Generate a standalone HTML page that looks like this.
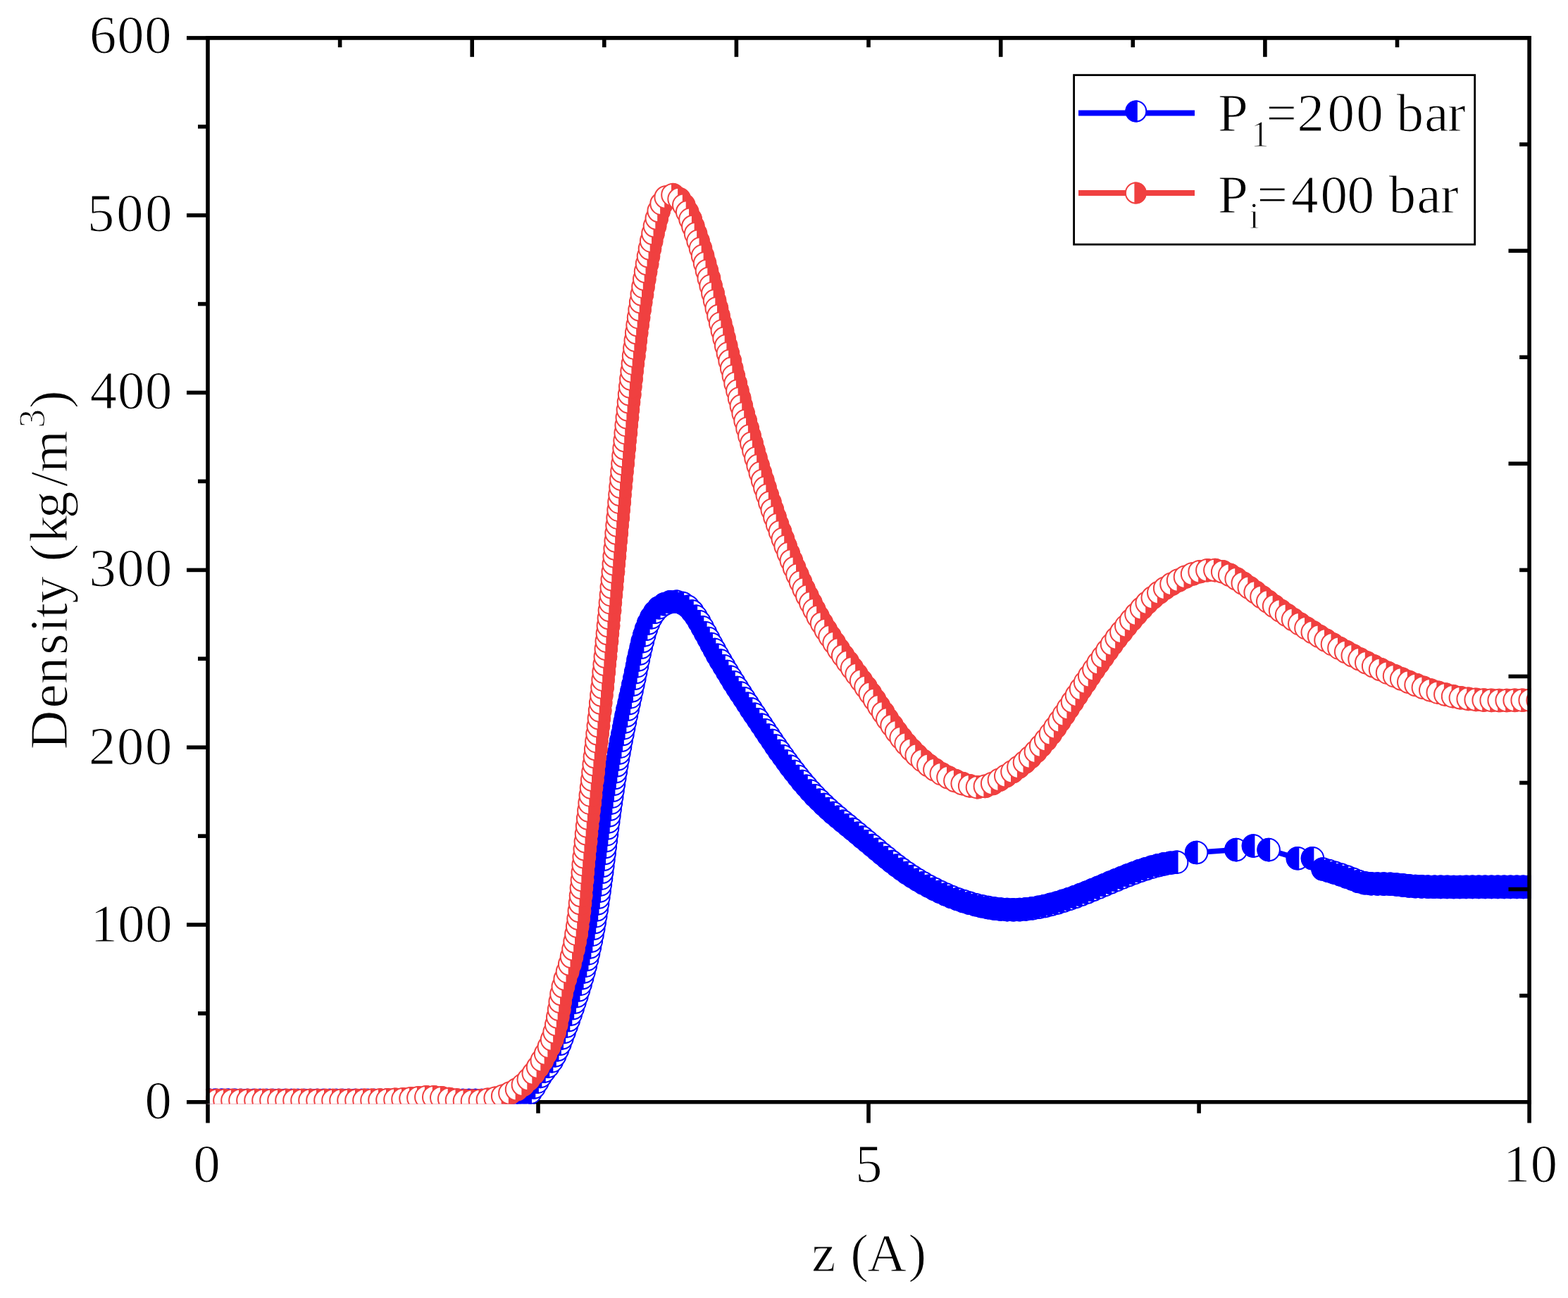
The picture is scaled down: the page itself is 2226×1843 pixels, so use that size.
<!DOCTYPE html><html><head><meta charset="utf-8"><title>Density profile</title><style>
*{margin:0;padding:0}
html,body{width:2226px;height:1843px;background:#fff;overflow:hidden}
svg{display:block}
text{font-family:'Liberation Serif','Times New Roman',serif;fill:#000;stroke:#fff;stroke-width:1.1px;stroke-linejoin:round}
.mr circle{fill:#fff;stroke:#F04040;stroke-width:2.0}
.mr path{fill:#F04040}
.mb circle{fill:#fff;stroke:#0000FF;stroke-width:2.0}
.mb path{fill:#0000FF}
</style></head><body><svg width="2226" height="1843" viewBox="0 0 2226 1843">
<defs><clipPath id="pc"><rect x="292" y="51" width="1882" height="1516.4"/></clipPath></defs>
<line x1="292.2" y1="1564.8" x2="2173.9" y2="1564.8" stroke="#000" stroke-width="5.6" stroke-linecap="butt"/>
<line x1="295" y1="1564.8" x2="295" y2="1594.5" stroke="#000" stroke-width="5.6" stroke-linecap="butt"/>
<line x1="1233" y1="1564.8" x2="1233" y2="1594.5" stroke="#000" stroke-width="5.6" stroke-linecap="butt"/>
<line x1="2171.1" y1="1564.8" x2="2171.1" y2="1594.5" stroke="#000" stroke-width="5.6" stroke-linecap="butt"/>
<line x1="764" y1="1564.8" x2="764" y2="1580.7" stroke="#000" stroke-width="5.6" stroke-linecap="butt"/>
<line x1="1702.1" y1="1564.8" x2="1702.1" y2="1580.7" stroke="#000" stroke-width="5.6" stroke-linecap="butt"/>
<g clip-path="url(#pc)">
<polyline points="296.9,1562.3 305.9,1562.4 314.9,1562.4 323.9,1562.4 332.9,1562.4 341.9,1562.5 350.9,1562.5 359.9,1562.5 368.9,1562.5 377.9,1562.5 386.9,1562.5 395.9,1562.5 404.9,1562.5 413.9,1562.5 422.9,1562.5 431.9,1562.5 440.9,1562.5 449.9,1562.5 458.9,1562.5 467.9,1562.5 476.9,1562.5 485.9,1562.5 494.9,1562.5 503.9,1562.5 512.9,1562.5 521.9,1562.5 530.9,1562.5 539.9,1562.5 548.9,1562.4 557.9,1562.4 566.9,1562.4 575.9,1562.4 584.9,1562.4 593.9,1562.4 602.9,1562.4 611.9,1562.4 620.9,1562.5 629.9,1562.5 638.9,1562.5 647.9,1562.5 656.9,1562.5 665.9,1562.5 674.9,1562.6 683.9,1562.6 692.9,1562.6 701.9,1562.7 710.9,1562.6 719.9,1562.4 728.9,1561.6 737.7,1560.1 746.1,1557 753,1551.2 758.3,1543.9 762.9,1536.2 767.4,1528.4 772.7,1521.1 778.3,1514.1 783.4,1506.7 787.8,1498.8 791.5,1490.6 794.9,1482.3 798,1473.9 801.1,1465.4 804.2,1457 807.3,1448.5 810.3,1440 813.2,1431.5 816,1423 818.8,1414.4 821.5,1405.8 824.1,1397.2 826.6,1388.6 829,1379.9 831.3,1371.2 833.5,1362.4 835.5,1353.7 837.4,1344.9 839.3,1336.1 841,1327.2 842.7,1318.4 844.2,1309.5 845.7,1300.7 847.2,1291.8 848.5,1282.9 849.8,1274 851.1,1265.1 852.3,1256.1 853.5,1247.2 854.7,1238.3 855.8,1229.4 856.9,1220.4 858.1,1211.5 859.2,1202.6 860.3,1193.6 861.4,1184.7 862.5,1175.8 863.7,1166.9 864.9,1157.9 866.1,1149 867.4,1140.1 868.7,1131.2 870,1122.3 871.4,1113.4 872.8,1104.5 874.3,1095.6 875.7,1086.8 877.3,1077.9 878.9,1069 880.5,1060.2 882.1,1051.3 883.9,1042.5 885.6,1033.7 887.4,1024.9 889.3,1016.1 891.2,1007.3 893.1,998.5 895,989.7 897,980.9 898.9,972.1 900.8,963.3 902.6,954.5 904.5,945.7 906.3,936.9 908.2,928.1 910.2,919.3 912.4,910.6 914.7,901.9 917.4,893.3 920.6,884.9 924.6,876.8 929.5,869.3 935.7,862.8 943.2,857.8 951.6,854.8 960.6,854.2 969.2,856.5 976.7,861.4 982.8,868 988.1,875.3 992.9,882.9 997.3,890.8 1001.6,898.7 1005.8,906.6 1010,914.6 1014.3,922.5 1018.7,930.3 1023.2,938.1 1027.8,945.9 1032.4,953.6 1037.1,961.3 1041.8,968.9 1046.7,976.6 1051.5,984.1 1056.4,991.7 1061.3,999.2 1066.3,1006.7 1071.3,1014.2 1076.2,1021.7 1081.2,1029.2 1086.2,1036.7 1091.3,1044.2 1096.3,1051.6 1101.4,1059.1 1106.5,1066.5 1111.7,1073.8 1116.9,1081.1 1122.3,1088.3 1127.7,1095.5 1133.3,1102.6 1139,1109.6 1144.8,1116.4 1150.8,1123.2 1156.9,1129.8 1163.2,1136.2 1169.6,1142.5 1176.2,1148.6 1183,1154.6 1189.8,1160.4 1196.7,1166.2 1203.7,1171.9 1210.6,1177.6 1217.6,1183.3 1224.5,1189 1231.4,1194.8 1238.3,1200.6 1245.2,1206.4 1252.1,1212.2 1259.1,1217.9 1266.1,1223.5 1273.2,1229 1280.4,1234.4 1287.8,1239.5 1295.3,1244.5 1302.9,1249.3 1310.7,1253.9 1318.6,1258.2 1326.6,1262.4 1334.7,1266.3 1342.9,1270 1351.2,1273.5 1359.6,1276.7 1368.1,1279.6 1376.7,1282.3 1385.3,1284.7 1394.1,1286.8 1402.9,1288.6 1411.8,1290 1420.7,1291 1429.7,1291.6 1438.7,1291.8 1447.7,1291.6 1456.7,1290.9 1465.6,1289.8 1474.5,1288.3 1483.3,1286.5 1492.1,1284.4 1500.7,1282 1509.3,1279.3 1517.9,1276.5 1526.4,1273.5 1534.8,1270.3 1543.2,1267 1551.5,1263.6 1559.8,1260.2 1568.1,1256.7 1576.4,1253.1 1584.7,1249.7 1593,1246.2 1601.4,1242.9 1609.8,1239.7 1618.2,1236.6 1626.8,1233.8 1635.4,1231.2 1644.1,1228.8 1652.8,1226.8 1661.7,1225.3 1670.6,1224.2 1698.6,1210.5 1754.9,1206.6 1779.4,1201.1 1801.1,1206.6 1842.3,1218.8 1863.4,1218.8 1878,1234 1886.6,1236.6 1895.2,1239.2 1903.8,1242.1 1912.3,1245 1920.7,1248.2 1929,1251.5 1937.7,1253.8 1946.7,1254.7 1955.7,1255 1964.7,1255.1 1973.7,1255.3 1982.7,1256 1991.6,1256.9 2000.6,1257.9 2009.5,1258.6 2018.5,1258.9 2027.5,1259.2 2036.5,1259.3 2045.5,1259.4 2054.5,1259.4 2063.5,1259.5 2072.5,1259.5 2081.5,1259.4 2090.5,1259.4 2099.5,1259.4 2108.5,1259.4 2117.5,1259.4 2126.5,1259.4 2135.5,1259.4 2144.5,1259.4 2153.5,1259.4 2162.5,1259.4 2171.5,1259.4 2180.5,1259.4" fill="none" stroke="#0000FF" stroke-width="7.5" stroke-linejoin="round"/>
<g class="mb">
<circle cx="296.9" cy="1562.3" r="15.8"/><path d="M298.9 1545.6A16.8 16.8 0 1 0 298.9 1579Z"/>
<circle cx="305.9" cy="1562.4" r="15.8"/><path d="M307.9 1545.7A16.8 16.8 0 1 0 307.9 1579Z"/>
<circle cx="314.9" cy="1562.4" r="15.8"/><path d="M316.9 1545.7A16.8 16.8 0 1 0 316.9 1579.1Z"/>
<circle cx="323.9" cy="1562.4" r="15.8"/><path d="M325.9 1545.7A16.8 16.8 0 1 0 325.9 1579.1Z"/>
<circle cx="332.9" cy="1562.4" r="15.8"/><path d="M334.9 1545.8A16.8 16.8 0 1 0 334.9 1579.1Z"/>
<circle cx="341.9" cy="1562.5" r="15.8"/><path d="M343.9 1545.8A16.8 16.8 0 1 0 343.9 1579.1Z"/>
<circle cx="350.9" cy="1562.5" r="15.8"/><path d="M352.9 1545.8A16.8 16.8 0 1 0 352.9 1579.2Z"/>
<circle cx="359.9" cy="1562.5" r="15.8"/><path d="M361.9 1545.8A16.8 16.8 0 1 0 361.9 1579.2Z"/>
<circle cx="368.9" cy="1562.5" r="15.8"/><path d="M370.9 1545.8A16.8 16.8 0 1 0 370.9 1579.2Z"/>
<circle cx="377.9" cy="1562.5" r="15.8"/><path d="M379.9 1545.8A16.8 16.8 0 1 0 379.9 1579.2Z"/>
<circle cx="386.9" cy="1562.5" r="15.8"/><path d="M388.9 1545.8A16.8 16.8 0 1 0 388.9 1579.2Z"/>
<circle cx="395.9" cy="1562.5" r="15.8"/><path d="M397.9 1545.9A16.8 16.8 0 1 0 397.9 1579.2Z"/>
<circle cx="404.9" cy="1562.5" r="15.8"/><path d="M406.9 1545.9A16.8 16.8 0 1 0 406.9 1579.2Z"/>
<circle cx="413.9" cy="1562.5" r="15.8"/><path d="M415.9 1545.9A16.8 16.8 0 1 0 415.9 1579.2Z"/>
<circle cx="422.9" cy="1562.5" r="15.8"/><path d="M424.9 1545.9A16.8 16.8 0 1 0 424.9 1579.2Z"/>
<circle cx="431.9" cy="1562.5" r="15.8"/><path d="M433.9 1545.9A16.8 16.8 0 1 0 433.9 1579.2Z"/>
<circle cx="440.9" cy="1562.5" r="15.8"/><path d="M442.9 1545.9A16.8 16.8 0 1 0 442.9 1579.2Z"/>
<circle cx="449.9" cy="1562.5" r="15.8"/><path d="M451.9 1545.8A16.8 16.8 0 1 0 451.9 1579.2Z"/>
<circle cx="458.9" cy="1562.5" r="15.8"/><path d="M460.9 1545.8A16.8 16.8 0 1 0 460.9 1579.2Z"/>
<circle cx="467.9" cy="1562.5" r="15.8"/><path d="M469.9 1545.8A16.8 16.8 0 1 0 469.9 1579.2Z"/>
<circle cx="476.9" cy="1562.5" r="15.8"/><path d="M478.9 1545.8A16.8 16.8 0 1 0 478.9 1579.2Z"/>
<circle cx="485.9" cy="1562.5" r="15.8"/><path d="M487.9 1545.8A16.8 16.8 0 1 0 487.9 1579.2Z"/>
<circle cx="494.9" cy="1562.5" r="15.8"/><path d="M496.9 1545.8A16.8 16.8 0 1 0 496.9 1579.2Z"/>
<circle cx="503.9" cy="1562.5" r="15.8"/><path d="M505.9 1545.8A16.8 16.8 0 1 0 505.9 1579.2Z"/>
<circle cx="512.9" cy="1562.5" r="15.8"/><path d="M514.9 1545.8A16.8 16.8 0 1 0 514.9 1579.2Z"/>
<circle cx="521.9" cy="1562.5" r="15.8"/><path d="M523.9 1545.8A16.8 16.8 0 1 0 523.9 1579.1Z"/>
<circle cx="530.9" cy="1562.5" r="15.8"/><path d="M532.9 1545.8A16.8 16.8 0 1 0 532.9 1579.1Z"/>
<circle cx="539.9" cy="1562.5" r="15.8"/><path d="M541.9 1545.8A16.8 16.8 0 1 0 541.9 1579.1Z"/>
<circle cx="548.9" cy="1562.4" r="15.8"/><path d="M550.9 1545.8A16.8 16.8 0 1 0 550.9 1579.1Z"/>
<circle cx="557.9" cy="1562.4" r="15.8"/><path d="M559.9 1545.8A16.8 16.8 0 1 0 559.9 1579.1Z"/>
<circle cx="566.9" cy="1562.4" r="15.8"/><path d="M568.9 1545.8A16.8 16.8 0 1 0 568.9 1579.1Z"/>
<circle cx="575.9" cy="1562.4" r="15.8"/><path d="M577.9 1545.8A16.8 16.8 0 1 0 577.9 1579.1Z"/>
<circle cx="584.9" cy="1562.4" r="15.8"/><path d="M586.9 1545.8A16.8 16.8 0 1 0 586.9 1579.1Z"/>
<circle cx="593.9" cy="1562.4" r="15.8"/><path d="M595.9 1545.8A16.8 16.8 0 1 0 595.9 1579.1Z"/>
<circle cx="602.9" cy="1562.4" r="15.8"/><path d="M604.9 1545.8A16.8 16.8 0 1 0 604.9 1579.1Z"/>
<circle cx="611.9" cy="1562.4" r="15.8"/><path d="M613.9 1545.8A16.8 16.8 0 1 0 613.9 1579.1Z"/>
<circle cx="620.9" cy="1562.5" r="15.8"/><path d="M622.9 1545.8A16.8 16.8 0 1 0 622.9 1579.1Z"/>
<circle cx="629.9" cy="1562.5" r="15.8"/><path d="M631.9 1545.8A16.8 16.8 0 1 0 631.9 1579.1Z"/>
<circle cx="638.9" cy="1562.5" r="15.8"/><path d="M640.9 1545.8A16.8 16.8 0 1 0 640.9 1579.2Z"/>
<circle cx="647.9" cy="1562.5" r="15.8"/><path d="M649.9 1545.8A16.8 16.8 0 1 0 649.9 1579.2Z"/>
<circle cx="656.9" cy="1562.5" r="15.8"/><path d="M658.9 1545.8A16.8 16.8 0 1 0 658.9 1579.2Z"/>
<circle cx="665.9" cy="1562.5" r="15.8"/><path d="M667.9 1545.9A16.8 16.8 0 1 0 667.9 1579.2Z"/>
<circle cx="674.9" cy="1562.6" r="15.8"/><path d="M676.9 1545.9A16.8 16.8 0 1 0 676.9 1579.2Z"/>
<circle cx="683.9" cy="1562.6" r="15.8"/><path d="M685.9 1545.9A16.8 16.8 0 1 0 685.9 1579.3Z"/>
<circle cx="692.9" cy="1562.6" r="15.8"/><path d="M694.9 1545.9A16.8 16.8 0 1 0 694.9 1579.3Z"/>
<circle cx="701.9" cy="1562.7" r="15.8"/><path d="M703.9 1546A16.8 16.8 0 1 0 703.9 1579.3Z"/>
<circle cx="710.9" cy="1562.6" r="15.8"/><path d="M712.9 1546A16.8 16.8 0 1 0 712.9 1579.3Z"/>
<circle cx="719.9" cy="1562.4" r="15.8"/><path d="M721.9 1545.7A16.8 16.8 0 1 0 721.9 1579Z"/>
<circle cx="728.9" cy="1561.6" r="15.8"/><path d="M730.9 1544.9A16.8 16.8 0 1 0 730.9 1578.3Z"/>
<circle cx="737.7" cy="1560.1" r="15.8"/><path d="M739.7 1543.5A16.8 16.8 0 1 0 739.7 1576.8Z"/>
<circle cx="746.1" cy="1557" r="15.8"/><path d="M748.1 1540.3A16.8 16.8 0 1 0 748.1 1573.7Z"/>
<circle cx="753" cy="1551.2" r="15.8"/><path d="M755 1534.5A16.8 16.8 0 1 0 755 1567.9Z"/>
<circle cx="758.3" cy="1543.9" r="15.8"/><path d="M760.3 1527.3A16.8 16.8 0 1 0 760.3 1560.6Z"/>
<circle cx="762.9" cy="1536.2" r="15.8"/><path d="M764.9 1519.5A16.8 16.8 0 1 0 764.9 1552.9Z"/>
<circle cx="767.4" cy="1528.4" r="15.8"/><path d="M769.4 1511.8A16.8 16.8 0 1 0 769.4 1545.1Z"/>
<circle cx="772.7" cy="1521.1" r="15.8"/><path d="M774.7 1504.5A16.8 16.8 0 1 0 774.7 1537.8Z"/>
<circle cx="778.3" cy="1514.1" r="15.8"/><path d="M780.3 1497.4A16.8 16.8 0 1 0 780.3 1530.8Z"/>
<circle cx="783.4" cy="1506.7" r="15.8"/><path d="M785.4 1490A16.8 16.8 0 1 0 785.4 1523.4Z"/>
<circle cx="787.8" cy="1498.8" r="15.8"/><path d="M789.8 1482.1A16.8 16.8 0 1 0 789.8 1515.5Z"/>
<circle cx="791.5" cy="1490.6" r="15.8"/><path d="M793.5 1474A16.8 16.8 0 1 0 793.5 1507.3Z"/>
<circle cx="794.9" cy="1482.3" r="15.8"/><path d="M796.9 1465.6A16.8 16.8 0 1 0 796.9 1499Z"/>
<circle cx="798" cy="1473.9" r="15.8"/><path d="M800 1457.2A16.8 16.8 0 1 0 800 1490.5Z"/>
<circle cx="801.1" cy="1465.4" r="15.8"/><path d="M803.1 1448.7A16.8 16.8 0 1 0 803.1 1482.1Z"/>
<circle cx="804.2" cy="1457" r="15.8"/><path d="M806.2 1440.3A16.8 16.8 0 1 0 806.2 1473.6Z"/>
<circle cx="807.3" cy="1448.5" r="15.8"/><path d="M809.3 1431.8A16.8 16.8 0 1 0 809.3 1465.2Z"/>
<circle cx="810.3" cy="1440" r="15.8"/><path d="M812.3 1423.3A16.8 16.8 0 1 0 812.3 1456.7Z"/>
<circle cx="813.2" cy="1431.5" r="15.8"/><path d="M815.2 1414.8A16.8 16.8 0 1 0 815.2 1448.2Z"/>
<circle cx="816" cy="1423" r="15.8"/><path d="M818 1406.3A16.8 16.8 0 1 0 818 1439.6Z"/>
<circle cx="818.8" cy="1414.4" r="15.8"/><path d="M820.8 1397.7A16.8 16.8 0 1 0 820.8 1431.1Z"/>
<circle cx="821.5" cy="1405.8" r="15.8"/><path d="M823.5 1389.1A16.8 16.8 0 1 0 823.5 1422.5Z"/>
<circle cx="824.1" cy="1397.2" r="15.8"/><path d="M826.1 1380.5A16.8 16.8 0 1 0 826.1 1413.9Z"/>
<circle cx="826.6" cy="1388.6" r="15.8"/><path d="M828.6 1371.9A16.8 16.8 0 1 0 828.6 1405.2Z"/>
<circle cx="829" cy="1379.9" r="15.8"/><path d="M831 1363.2A16.8 16.8 0 1 0 831 1396.6Z"/>
<circle cx="831.3" cy="1371.2" r="15.8"/><path d="M833.3 1354.5A16.8 16.8 0 1 0 833.3 1387.9Z"/>
<circle cx="833.5" cy="1362.4" r="15.8"/><path d="M835.5 1345.8A16.8 16.8 0 1 0 835.5 1379.1Z"/>
<circle cx="835.5" cy="1353.7" r="15.8"/><path d="M837.5 1337A16.8 16.8 0 1 0 837.5 1370.4Z"/>
<circle cx="837.4" cy="1344.9" r="15.8"/><path d="M839.4 1328.2A16.8 16.8 0 1 0 839.4 1361.6Z"/>
<circle cx="839.3" cy="1336.1" r="15.8"/><path d="M841.3 1319.4A16.8 16.8 0 1 0 841.3 1352.8Z"/>
<circle cx="841" cy="1327.2" r="15.8"/><path d="M843 1310.6A16.8 16.8 0 1 0 843 1343.9Z"/>
<circle cx="842.7" cy="1318.4" r="15.8"/><path d="M844.7 1301.7A16.8 16.8 0 1 0 844.7 1335.1Z"/>
<circle cx="844.2" cy="1309.5" r="15.8"/><path d="M846.2 1292.9A16.8 16.8 0 1 0 846.2 1326.2Z"/>
<circle cx="845.7" cy="1300.7" r="15.8"/><path d="M847.7 1284A16.8 16.8 0 1 0 847.7 1317.3Z"/>
<circle cx="847.2" cy="1291.8" r="15.8"/><path d="M849.2 1275.1A16.8 16.8 0 1 0 849.2 1308.5Z"/>
<circle cx="848.5" cy="1282.9" r="15.8"/><path d="M850.5 1266.2A16.8 16.8 0 1 0 850.5 1299.6Z"/>
<circle cx="849.8" cy="1274" r="15.8"/><path d="M851.8 1257.3A16.8 16.8 0 1 0 851.8 1290.7Z"/>
<circle cx="851.1" cy="1265.1" r="15.8"/><path d="M853.1 1248.4A16.8 16.8 0 1 0 853.1 1281.7Z"/>
<circle cx="852.3" cy="1256.1" r="15.8"/><path d="M854.3 1239.5A16.8 16.8 0 1 0 854.3 1272.8Z"/>
<circle cx="853.5" cy="1247.2" r="15.8"/><path d="M855.5 1230.5A16.8 16.8 0 1 0 855.5 1263.9Z"/>
<circle cx="854.7" cy="1238.3" r="15.8"/><path d="M856.7 1221.6A16.8 16.8 0 1 0 856.7 1255Z"/>
<circle cx="855.8" cy="1229.4" r="15.8"/><path d="M857.8 1212.7A16.8 16.8 0 1 0 857.8 1246.1Z"/>
<circle cx="856.9" cy="1220.4" r="15.8"/><path d="M858.9 1203.8A16.8 16.8 0 1 0 858.9 1237.1Z"/>
<circle cx="858.1" cy="1211.5" r="15.8"/><path d="M860.1 1194.8A16.8 16.8 0 1 0 860.1 1228.2Z"/>
<circle cx="859.2" cy="1202.6" r="15.8"/><path d="M861.2 1185.9A16.8 16.8 0 1 0 861.2 1219.3Z"/>
<circle cx="860.3" cy="1193.6" r="15.8"/><path d="M862.3 1177A16.8 16.8 0 1 0 862.3 1210.3Z"/>
<circle cx="861.4" cy="1184.7" r="15.8"/><path d="M863.4 1168A16.8 16.8 0 1 0 863.4 1201.4Z"/>
<circle cx="862.5" cy="1175.8" r="15.8"/><path d="M864.5 1159.1A16.8 16.8 0 1 0 864.5 1192.5Z"/>
<circle cx="863.7" cy="1166.9" r="15.8"/><path d="M865.7 1150.2A16.8 16.8 0 1 0 865.7 1183.5Z"/>
<circle cx="864.9" cy="1157.9" r="15.8"/><path d="M866.9 1141.3A16.8 16.8 0 1 0 866.9 1174.6Z"/>
<circle cx="866.1" cy="1149" r="15.8"/><path d="M868.1 1132.4A16.8 16.8 0 1 0 868.1 1165.7Z"/>
<circle cx="867.4" cy="1140.1" r="15.8"/><path d="M869.4 1123.4A16.8 16.8 0 1 0 869.4 1156.8Z"/>
<circle cx="868.7" cy="1131.2" r="15.8"/><path d="M870.7 1114.5A16.8 16.8 0 1 0 870.7 1147.9Z"/>
<circle cx="870" cy="1122.3" r="15.8"/><path d="M872 1105.6A16.8 16.8 0 1 0 872 1139Z"/>
<circle cx="871.4" cy="1113.4" r="15.8"/><path d="M873.4 1096.7A16.8 16.8 0 1 0 873.4 1130.1Z"/>
<circle cx="872.8" cy="1104.5" r="15.8"/><path d="M874.8 1087.8A16.8 16.8 0 1 0 874.8 1121.2Z"/>
<circle cx="874.3" cy="1095.6" r="15.8"/><path d="M876.3 1079A16.8 16.8 0 1 0 876.3 1112.3Z"/>
<circle cx="875.7" cy="1086.8" r="15.8"/><path d="M877.7 1070.1A16.8 16.8 0 1 0 877.7 1103.5Z"/>
<circle cx="877.3" cy="1077.9" r="15.8"/><path d="M879.3 1061.2A16.8 16.8 0 1 0 879.3 1094.6Z"/>
<circle cx="878.9" cy="1069" r="15.8"/><path d="M880.9 1052.4A16.8 16.8 0 1 0 880.9 1085.7Z"/>
<circle cx="880.5" cy="1060.2" r="15.8"/><path d="M882.5 1043.5A16.8 16.8 0 1 0 882.5 1076.9Z"/>
<circle cx="882.1" cy="1051.3" r="15.8"/><path d="M884.1 1034.7A16.8 16.8 0 1 0 884.1 1068Z"/>
<circle cx="883.9" cy="1042.5" r="15.8"/><path d="M885.9 1025.8A16.8 16.8 0 1 0 885.9 1059.2Z"/>
<circle cx="885.6" cy="1033.7" r="15.8"/><path d="M887.6 1017A16.8 16.8 0 1 0 887.6 1050.4Z"/>
<circle cx="887.4" cy="1024.9" r="15.8"/><path d="M889.4 1008.2A16.8 16.8 0 1 0 889.4 1041.5Z"/>
<circle cx="889.3" cy="1016.1" r="15.8"/><path d="M891.3 999.4A16.8 16.8 0 1 0 891.3 1032.7Z"/>
<circle cx="891.2" cy="1007.3" r="15.8"/><path d="M893.2 990.6A16.8 16.8 0 1 0 893.2 1023.9Z"/>
<circle cx="893.1" cy="998.5" r="15.8"/><path d="M895.1 981.8A16.8 16.8 0 1 0 895.1 1015.2Z"/>
<circle cx="895" cy="989.7" r="15.8"/><path d="M897 973A16.8 16.8 0 1 0 897 1006.4Z"/>
<circle cx="897" cy="980.9" r="15.8"/><path d="M899 964.2A16.8 16.8 0 1 0 899 997.6Z"/>
<circle cx="898.9" cy="972.1" r="15.8"/><path d="M900.9 955.4A16.8 16.8 0 1 0 900.9 988.8Z"/>
<circle cx="900.8" cy="963.3" r="15.8"/><path d="M902.8 946.6A16.8 16.8 0 1 0 902.8 980Z"/>
<circle cx="902.6" cy="954.5" r="15.8"/><path d="M904.6 937.8A16.8 16.8 0 1 0 904.6 971.2Z"/>
<circle cx="904.5" cy="945.7" r="15.8"/><path d="M906.5 929A16.8 16.8 0 1 0 906.5 962.4Z"/>
<circle cx="906.3" cy="936.9" r="15.8"/><path d="M908.3 920.2A16.8 16.8 0 1 0 908.3 953.5Z"/>
<circle cx="908.2" cy="928.1" r="15.8"/><path d="M910.2 911.4A16.8 16.8 0 1 0 910.2 944.8Z"/>
<circle cx="910.2" cy="919.3" r="15.8"/><path d="M912.2 902.6A16.8 16.8 0 1 0 912.2 936Z"/>
<circle cx="912.4" cy="910.6" r="15.8"/><path d="M914.4 893.9A16.8 16.8 0 1 0 914.4 927.2Z"/>
<circle cx="914.7" cy="901.9" r="15.8"/><path d="M916.7 885.2A16.8 16.8 0 1 0 916.7 918.6Z"/>
<circle cx="917.4" cy="893.3" r="15.8"/><path d="M919.4 876.6A16.8 16.8 0 1 0 919.4 910Z"/>
<circle cx="920.6" cy="884.9" r="15.8"/><path d="M922.6 868.2A16.8 16.8 0 1 0 922.6 901.6Z"/>
<circle cx="924.6" cy="876.8" r="15.8"/><path d="M926.6 860.1A16.8 16.8 0 1 0 926.6 893.5Z"/>
<circle cx="929.5" cy="869.3" r="15.8"/><path d="M931.5 852.6A16.8 16.8 0 1 0 931.5 886Z"/>
<circle cx="935.7" cy="862.8" r="15.8"/><path d="M937.7 846.1A16.8 16.8 0 1 0 937.7 879.4Z"/>
<circle cx="943.2" cy="857.8" r="15.8"/><path d="M945.2 841.1A16.8 16.8 0 1 0 945.2 874.5Z"/>
<circle cx="951.6" cy="854.8" r="15.8"/><path d="M953.6 838.1A16.8 16.8 0 1 0 953.6 871.4Z"/>
<circle cx="960.6" cy="854.2" r="15.8"/><path d="M962.6 837.5A16.8 16.8 0 1 0 962.6 870.9Z"/>
<circle cx="969.2" cy="856.5" r="15.8"/><path d="M971.2 839.8A16.8 16.8 0 1 0 971.2 873.2Z"/>
<circle cx="976.7" cy="861.4" r="15.8"/><path d="M978.7 844.8A16.8 16.8 0 1 0 978.7 878.1Z"/>
<circle cx="982.8" cy="868" r="15.8"/><path d="M984.8 851.4A16.8 16.8 0 1 0 984.8 884.7Z"/>
<circle cx="988.1" cy="875.3" r="15.8"/><path d="M990.1 858.6A16.8 16.8 0 1 0 990.1 892Z"/>
<circle cx="992.9" cy="882.9" r="15.8"/><path d="M994.9 866.3A16.8 16.8 0 1 0 994.9 899.6Z"/>
<circle cx="997.3" cy="890.8" r="15.8"/><path d="M999.3 874.1A16.8 16.8 0 1 0 999.3 907.4Z"/>
<circle cx="1001.6" cy="898.7" r="15.8"/><path d="M1003.6 882A16.8 16.8 0 1 0 1003.6 915.3Z"/>
<circle cx="1005.8" cy="906.6" r="15.8"/><path d="M1007.8 889.9A16.8 16.8 0 1 0 1007.8 923.3Z"/>
<circle cx="1010" cy="914.6" r="15.8"/><path d="M1012 897.9A16.8 16.8 0 1 0 1012 931.3Z"/>
<circle cx="1014.3" cy="922.5" r="15.8"/><path d="M1016.3 905.8A16.8 16.8 0 1 0 1016.3 939.2Z"/>
<circle cx="1018.7" cy="930.3" r="15.8"/><path d="M1020.7 913.7A16.8 16.8 0 1 0 1020.7 947Z"/>
<circle cx="1023.2" cy="938.1" r="15.8"/><path d="M1025.2 921.5A16.8 16.8 0 1 0 1025.2 954.8Z"/>
<circle cx="1027.8" cy="945.9" r="15.8"/><path d="M1029.8 929.2A16.8 16.8 0 1 0 1029.8 962.6Z"/>
<circle cx="1032.4" cy="953.6" r="15.8"/><path d="M1034.4 936.9A16.8 16.8 0 1 0 1034.4 970.3Z"/>
<circle cx="1037.1" cy="961.3" r="15.8"/><path d="M1039.1 944.6A16.8 16.8 0 1 0 1039.1 978Z"/>
<circle cx="1041.8" cy="968.9" r="15.8"/><path d="M1043.8 952.3A16.8 16.8 0 1 0 1043.8 985.6Z"/>
<circle cx="1046.7" cy="976.6" r="15.8"/><path d="M1048.7 959.9A16.8 16.8 0 1 0 1048.7 993.2Z"/>
<circle cx="1051.5" cy="984.1" r="15.8"/><path d="M1053.5 967.5A16.8 16.8 0 1 0 1053.5 1000.8Z"/>
<circle cx="1056.4" cy="991.7" r="15.8"/><path d="M1058.4 975A16.8 16.8 0 1 0 1058.4 1008.4Z"/>
<circle cx="1061.3" cy="999.2" r="15.8"/><path d="M1063.3 982.5A16.8 16.8 0 1 0 1063.3 1015.9Z"/>
<circle cx="1066.3" cy="1006.7" r="15.8"/><path d="M1068.3 990.1A16.8 16.8 0 1 0 1068.3 1023.4Z"/>
<circle cx="1071.3" cy="1014.2" r="15.8"/><path d="M1073.3 997.6A16.8 16.8 0 1 0 1073.3 1030.9Z"/>
<circle cx="1076.2" cy="1021.7" r="15.8"/><path d="M1078.2 1005A16.8 16.8 0 1 0 1078.2 1038.4Z"/>
<circle cx="1081.2" cy="1029.2" r="15.8"/><path d="M1083.2 1012.5A16.8 16.8 0 1 0 1083.2 1045.9Z"/>
<circle cx="1086.2" cy="1036.7" r="15.8"/><path d="M1088.2 1020A16.8 16.8 0 1 0 1088.2 1053.4Z"/>
<circle cx="1091.3" cy="1044.2" r="15.8"/><path d="M1093.3 1027.5A16.8 16.8 0 1 0 1093.3 1060.8Z"/>
<circle cx="1096.3" cy="1051.6" r="15.8"/><path d="M1098.3 1034.9A16.8 16.8 0 1 0 1098.3 1068.3Z"/>
<circle cx="1101.4" cy="1059.1" r="15.8"/><path d="M1103.4 1042.4A16.8 16.8 0 1 0 1103.4 1075.7Z"/>
<circle cx="1106.5" cy="1066.5" r="15.8"/><path d="M1108.5 1049.8A16.8 16.8 0 1 0 1108.5 1083.1Z"/>
<circle cx="1111.7" cy="1073.8" r="15.8"/><path d="M1113.7 1057.1A16.8 16.8 0 1 0 1113.7 1090.5Z"/>
<circle cx="1116.9" cy="1081.1" r="15.8"/><path d="M1118.9 1064.4A16.8 16.8 0 1 0 1118.9 1097.8Z"/>
<circle cx="1122.3" cy="1088.3" r="15.8"/><path d="M1124.3 1071.7A16.8 16.8 0 1 0 1124.3 1105Z"/>
<circle cx="1127.7" cy="1095.5" r="15.8"/><path d="M1129.7 1078.8A16.8 16.8 0 1 0 1129.7 1112.2Z"/>
<circle cx="1133.3" cy="1102.6" r="15.8"/><path d="M1135.3 1085.9A16.8 16.8 0 1 0 1135.3 1119.3Z"/>
<circle cx="1139" cy="1109.6" r="15.8"/><path d="M1141 1092.9A16.8 16.8 0 1 0 1141 1126.2Z"/>
<circle cx="1144.8" cy="1116.4" r="15.8"/><path d="M1146.8 1099.7A16.8 16.8 0 1 0 1146.8 1133.1Z"/>
<circle cx="1150.8" cy="1123.2" r="15.8"/><path d="M1152.8 1106.5A16.8 16.8 0 1 0 1152.8 1139.8Z"/>
<circle cx="1156.9" cy="1129.8" r="15.8"/><path d="M1158.9 1113.1A16.8 16.8 0 1 0 1158.9 1146.4Z"/>
<circle cx="1163.2" cy="1136.2" r="15.8"/><path d="M1165.2 1119.5A16.8 16.8 0 1 0 1165.2 1152.9Z"/>
<circle cx="1169.6" cy="1142.5" r="15.8"/><path d="M1171.6 1125.8A16.8 16.8 0 1 0 1171.6 1159.2Z"/>
<circle cx="1176.2" cy="1148.6" r="15.8"/><path d="M1178.2 1131.9A16.8 16.8 0 1 0 1178.2 1165.3Z"/>
<circle cx="1183" cy="1154.6" r="15.8"/><path d="M1185 1137.9A16.8 16.8 0 1 0 1185 1171.2Z"/>
<circle cx="1189.8" cy="1160.4" r="15.8"/><path d="M1191.8 1143.7A16.8 16.8 0 1 0 1191.8 1177.1Z"/>
<circle cx="1196.7" cy="1166.2" r="15.8"/><path d="M1198.7 1149.5A16.8 16.8 0 1 0 1198.7 1182.9Z"/>
<circle cx="1203.7" cy="1171.9" r="15.8"/><path d="M1205.7 1155.2A16.8 16.8 0 1 0 1205.7 1188.6Z"/>
<circle cx="1210.6" cy="1177.6" r="15.8"/><path d="M1212.6 1160.9A16.8 16.8 0 1 0 1212.6 1194.3Z"/>
<circle cx="1217.6" cy="1183.3" r="15.8"/><path d="M1219.6 1166.6A16.8 16.8 0 1 0 1219.6 1200Z"/>
<circle cx="1224.5" cy="1189" r="15.8"/><path d="M1226.5 1172.4A16.8 16.8 0 1 0 1226.5 1205.7Z"/>
<circle cx="1231.4" cy="1194.8" r="15.8"/><path d="M1233.4 1178.1A16.8 16.8 0 1 0 1233.4 1211.5Z"/>
<circle cx="1238.3" cy="1200.6" r="15.8"/><path d="M1240.3 1183.9A16.8 16.8 0 1 0 1240.3 1217.3Z"/>
<circle cx="1245.2" cy="1206.4" r="15.8"/><path d="M1247.2 1189.7A16.8 16.8 0 1 0 1247.2 1223.1Z"/>
<circle cx="1252.1" cy="1212.2" r="15.8"/><path d="M1254.1 1195.5A16.8 16.8 0 1 0 1254.1 1228.9Z"/>
<circle cx="1259.1" cy="1217.9" r="15.8"/><path d="M1261.1 1201.2A16.8 16.8 0 1 0 1261.1 1234.6Z"/>
<circle cx="1266.1" cy="1223.5" r="15.8"/><path d="M1268.1 1206.8A16.8 16.8 0 1 0 1268.1 1240.2Z"/>
<circle cx="1273.2" cy="1229" r="15.8"/><path d="M1275.2 1212.3A16.8 16.8 0 1 0 1275.2 1245.7Z"/>
<circle cx="1280.4" cy="1234.4" r="15.8"/><path d="M1282.4 1217.7A16.8 16.8 0 1 0 1282.4 1251.1Z"/>
<circle cx="1287.8" cy="1239.5" r="15.8"/><path d="M1289.8 1222.9A16.8 16.8 0 1 0 1289.8 1256.2Z"/>
<circle cx="1295.3" cy="1244.5" r="15.8"/><path d="M1297.3 1227.8A16.8 16.8 0 1 0 1297.3 1261.2Z"/>
<circle cx="1302.9" cy="1249.3" r="15.8"/><path d="M1304.9 1232.6A16.8 16.8 0 1 0 1304.9 1266Z"/>
<circle cx="1310.7" cy="1253.9" r="15.8"/><path d="M1312.7 1237.2A16.8 16.8 0 1 0 1312.7 1270.6Z"/>
<circle cx="1318.6" cy="1258.2" r="15.8"/><path d="M1320.6 1241.5A16.8 16.8 0 1 0 1320.6 1274.9Z"/>
<circle cx="1326.6" cy="1262.4" r="15.8"/><path d="M1328.6 1245.7A16.8 16.8 0 1 0 1328.6 1279.1Z"/>
<circle cx="1334.7" cy="1266.3" r="15.8"/><path d="M1336.7 1249.6A16.8 16.8 0 1 0 1336.7 1283Z"/>
<circle cx="1342.9" cy="1270" r="15.8"/><path d="M1344.9 1253.3A16.8 16.8 0 1 0 1344.9 1286.7Z"/>
<circle cx="1351.2" cy="1273.5" r="15.8"/><path d="M1353.2 1256.8A16.8 16.8 0 1 0 1353.2 1290.1Z"/>
<circle cx="1359.6" cy="1276.7" r="15.8"/><path d="M1361.6 1260A16.8 16.8 0 1 0 1361.6 1293.4Z"/>
<circle cx="1368.1" cy="1279.6" r="15.8"/><path d="M1370.1 1263A16.8 16.8 0 1 0 1370.1 1296.3Z"/>
<circle cx="1376.7" cy="1282.3" r="15.8"/><path d="M1378.7 1265.6A16.8 16.8 0 1 0 1378.7 1299Z"/>
<circle cx="1385.3" cy="1284.7" r="15.8"/><path d="M1387.3 1268A16.8 16.8 0 1 0 1387.3 1301.4Z"/>
<circle cx="1394.1" cy="1286.8" r="15.8"/><path d="M1396.1 1270.1A16.8 16.8 0 1 0 1396.1 1303.5Z"/>
<circle cx="1402.9" cy="1288.6" r="15.8"/><path d="M1404.9 1271.9A16.8 16.8 0 1 0 1404.9 1305.3Z"/>
<circle cx="1411.8" cy="1290" r="15.8"/><path d="M1413.8 1273.3A16.8 16.8 0 1 0 1413.8 1306.7Z"/>
<circle cx="1420.7" cy="1291" r="15.8"/><path d="M1422.7 1274.3A16.8 16.8 0 1 0 1422.7 1307.7Z"/>
<circle cx="1429.7" cy="1291.6" r="15.8"/><path d="M1431.7 1274.9A16.8 16.8 0 1 0 1431.7 1308.3Z"/>
<circle cx="1438.7" cy="1291.8" r="15.8"/><path d="M1440.7 1275.1A16.8 16.8 0 1 0 1440.7 1308.5Z"/>
<circle cx="1447.7" cy="1291.6" r="15.8"/><path d="M1449.7 1274.9A16.8 16.8 0 1 0 1449.7 1308.2Z"/>
<circle cx="1456.7" cy="1290.9" r="15.8"/><path d="M1458.7 1274.2A16.8 16.8 0 1 0 1458.7 1307.5Z"/>
<circle cx="1465.6" cy="1289.8" r="15.8"/><path d="M1467.6 1273.1A16.8 16.8 0 1 0 1467.6 1306.4Z"/>
<circle cx="1474.5" cy="1288.3" r="15.8"/><path d="M1476.5 1271.6A16.8 16.8 0 1 0 1476.5 1305Z"/>
<circle cx="1483.3" cy="1286.5" r="15.8"/><path d="M1485.3 1269.8A16.8 16.8 0 1 0 1485.3 1303.2Z"/>
<circle cx="1492.1" cy="1284.4" r="15.8"/><path d="M1494.1 1267.7A16.8 16.8 0 1 0 1494.1 1301Z"/>
<circle cx="1500.7" cy="1282" r="15.8"/><path d="M1502.7 1265.3A16.8 16.8 0 1 0 1502.7 1298.7Z"/>
<circle cx="1509.3" cy="1279.3" r="15.8"/><path d="M1511.3 1262.7A16.8 16.8 0 1 0 1511.3 1296Z"/>
<circle cx="1517.9" cy="1276.5" r="15.8"/><path d="M1519.9 1259.8A16.8 16.8 0 1 0 1519.9 1293.2Z"/>
<circle cx="1526.4" cy="1273.5" r="15.8"/><path d="M1528.4 1256.8A16.8 16.8 0 1 0 1528.4 1290.2Z"/>
<circle cx="1534.8" cy="1270.3" r="15.8"/><path d="M1536.8 1253.7A16.8 16.8 0 1 0 1536.8 1287Z"/>
<circle cx="1543.2" cy="1267" r="15.8"/><path d="M1545.2 1250.4A16.8 16.8 0 1 0 1545.2 1283.7Z"/>
<circle cx="1551.5" cy="1263.6" r="15.8"/><path d="M1553.5 1247A16.8 16.8 0 1 0 1553.5 1280.3Z"/>
<circle cx="1559.8" cy="1260.2" r="15.8"/><path d="M1561.8 1243.5A16.8 16.8 0 1 0 1561.8 1276.8Z"/>
<circle cx="1568.1" cy="1256.7" r="15.8"/><path d="M1570.1 1240A16.8 16.8 0 1 0 1570.1 1273.3Z"/>
<circle cx="1576.4" cy="1253.1" r="15.8"/><path d="M1578.4 1236.5A16.8 16.8 0 1 0 1578.4 1269.8Z"/>
<circle cx="1584.7" cy="1249.7" r="15.8"/><path d="M1586.7 1233A16.8 16.8 0 1 0 1586.7 1266.3Z"/>
<circle cx="1593" cy="1246.2" r="15.8"/><path d="M1595 1229.6A16.8 16.8 0 1 0 1595 1262.9Z"/>
<circle cx="1601.4" cy="1242.9" r="15.8"/><path d="M1603.4 1226.2A16.8 16.8 0 1 0 1603.4 1259.6Z"/>
<circle cx="1609.8" cy="1239.7" r="15.8"/><path d="M1611.8 1223A16.8 16.8 0 1 0 1611.8 1256.4Z"/>
<circle cx="1618.2" cy="1236.6" r="15.8"/><path d="M1620.2 1220A16.8 16.8 0 1 0 1620.2 1253.3Z"/>
<circle cx="1626.8" cy="1233.8" r="15.8"/><path d="M1628.8 1217.1A16.8 16.8 0 1 0 1628.8 1250.5Z"/>
<circle cx="1635.4" cy="1231.2" r="15.8"/><path d="M1637.4 1214.5A16.8 16.8 0 1 0 1637.4 1247.8Z"/>
<circle cx="1644.1" cy="1228.8" r="15.8"/><path d="M1646.1 1212.1A16.8 16.8 0 1 0 1646.1 1245.5Z"/>
<circle cx="1652.8" cy="1226.8" r="15.8"/><path d="M1654.8 1210.2A16.8 16.8 0 1 0 1654.8 1243.5Z"/>
<circle cx="1661.7" cy="1225.3" r="15.8"/><path d="M1663.7 1208.6A16.8 16.8 0 1 0 1663.7 1242Z"/>
<circle cx="1670.6" cy="1224.2" r="15.8"/><path d="M1672.6 1207.5A16.8 16.8 0 1 0 1672.6 1240.9Z"/>
<circle cx="1698.6" cy="1210.5" r="15.8"/><path d="M1700.6 1193.8A16.8 16.8 0 1 0 1700.6 1227.2Z"/>
<circle cx="1754.9" cy="1206.6" r="15.8"/><path d="M1756.9 1189.9A16.8 16.8 0 1 0 1756.9 1223.3Z"/>
<circle cx="1779.4" cy="1201.1" r="15.8"/><path d="M1781.4 1184.4A16.8 16.8 0 1 0 1781.4 1217.8Z"/>
<circle cx="1801.1" cy="1206.6" r="15.8"/><path d="M1803.1 1189.9A16.8 16.8 0 1 0 1803.1 1223.3Z"/>
<circle cx="1842.3" cy="1218.8" r="15.8"/><path d="M1844.3 1202.1A16.8 16.8 0 1 0 1844.3 1235.5Z"/>
<circle cx="1863.4" cy="1218.8" r="15.8"/><path d="M1865.4 1202.1A16.8 16.8 0 1 0 1865.4 1235.5Z"/>
<circle cx="1878" cy="1234" r="15.8"/><path d="M1880 1217.3A16.8 16.8 0 1 0 1880 1250.7Z"/>
<circle cx="1886.6" cy="1236.6" r="15.8"/><path d="M1888.6 1219.9A16.8 16.8 0 1 0 1888.6 1253.3Z"/>
<circle cx="1895.2" cy="1239.2" r="15.8"/><path d="M1897.2 1222.6A16.8 16.8 0 1 0 1897.2 1255.9Z"/>
<circle cx="1903.8" cy="1242.1" r="15.8"/><path d="M1905.8 1225.4A16.8 16.8 0 1 0 1905.8 1258.8Z"/>
<circle cx="1912.3" cy="1245" r="15.8"/><path d="M1914.3 1228.4A16.8 16.8 0 1 0 1914.3 1261.7Z"/>
<circle cx="1920.7" cy="1248.2" r="15.8"/><path d="M1922.7 1231.5A16.8 16.8 0 1 0 1922.7 1264.9Z"/>
<circle cx="1929" cy="1251.5" r="15.8"/><path d="M1931 1234.8A16.8 16.8 0 1 0 1931 1268.2Z"/>
<circle cx="1937.7" cy="1253.8" r="15.8"/><path d="M1939.7 1237.1A16.8 16.8 0 1 0 1939.7 1270.5Z"/>
<circle cx="1946.7" cy="1254.7" r="15.8"/><path d="M1948.7 1238.1A16.8 16.8 0 1 0 1948.7 1271.4Z"/>
<circle cx="1955.7" cy="1255" r="15.8"/><path d="M1957.7 1238.3A16.8 16.8 0 1 0 1957.7 1271.7Z"/>
<circle cx="1964.7" cy="1255.1" r="15.8"/><path d="M1966.7 1238.4A16.8 16.8 0 1 0 1966.7 1271.8Z"/>
<circle cx="1973.7" cy="1255.3" r="15.8"/><path d="M1975.7 1238.6A16.8 16.8 0 1 0 1975.7 1272Z"/>
<circle cx="1982.7" cy="1256" r="15.8"/><path d="M1984.7 1239.3A16.8 16.8 0 1 0 1984.7 1272.7Z"/>
<circle cx="1991.6" cy="1256.9" r="15.8"/><path d="M1993.6 1240.2A16.8 16.8 0 1 0 1993.6 1273.6Z"/>
<circle cx="2000.6" cy="1257.9" r="15.8"/><path d="M2002.6 1241.2A16.8 16.8 0 1 0 2002.6 1274.6Z"/>
<circle cx="2009.5" cy="1258.6" r="15.8"/><path d="M2011.5 1241.9A16.8 16.8 0 1 0 2011.5 1275.2Z"/>
<circle cx="2018.5" cy="1258.9" r="15.8"/><path d="M2020.5 1242.3A16.8 16.8 0 1 0 2020.5 1275.6Z"/>
<circle cx="2027.5" cy="1259.2" r="15.8"/><path d="M2029.5 1242.5A16.8 16.8 0 1 0 2029.5 1275.8Z"/>
<circle cx="2036.5" cy="1259.3" r="15.8"/><path d="M2038.5 1242.6A16.8 16.8 0 1 0 2038.5 1276Z"/>
<circle cx="2045.5" cy="1259.4" r="15.8"/><path d="M2047.5 1242.7A16.8 16.8 0 1 0 2047.5 1276Z"/>
<circle cx="2054.5" cy="1259.4" r="15.8"/><path d="M2056.5 1242.8A16.8 16.8 0 1 0 2056.5 1276.1Z"/>
<circle cx="2063.5" cy="1259.5" r="15.8"/><path d="M2065.5 1242.8A16.8 16.8 0 1 0 2065.5 1276.2Z"/>
<circle cx="2072.5" cy="1259.5" r="15.8"/><path d="M2074.5 1242.8A16.8 16.8 0 1 0 2074.5 1276.1Z"/>
<circle cx="2081.5" cy="1259.4" r="15.8"/><path d="M2083.5 1242.8A16.8 16.8 0 1 0 2083.5 1276.1Z"/>
<circle cx="2090.5" cy="1259.4" r="15.8"/><path d="M2092.5 1242.7A16.8 16.8 0 1 0 2092.5 1276.1Z"/>
<circle cx="2099.5" cy="1259.4" r="15.8"/><path d="M2101.5 1242.7A16.8 16.8 0 1 0 2101.5 1276.1Z"/>
<circle cx="2108.5" cy="1259.4" r="15.8"/><path d="M2110.5 1242.7A16.8 16.8 0 1 0 2110.5 1276.1Z"/>
<circle cx="2117.5" cy="1259.4" r="15.8"/><path d="M2119.5 1242.7A16.8 16.8 0 1 0 2119.5 1276.1Z"/>
<circle cx="2126.5" cy="1259.4" r="15.8"/><path d="M2128.5 1242.7A16.8 16.8 0 1 0 2128.5 1276.1Z"/>
<circle cx="2135.5" cy="1259.4" r="15.8"/><path d="M2137.5 1242.7A16.8 16.8 0 1 0 2137.5 1276.1Z"/>
<circle cx="2144.5" cy="1259.4" r="15.8"/><path d="M2146.5 1242.7A16.8 16.8 0 1 0 2146.5 1276.1Z"/>
<circle cx="2153.5" cy="1259.4" r="15.8"/><path d="M2155.5 1242.7A16.8 16.8 0 1 0 2155.5 1276.1Z"/>
<circle cx="2162.5" cy="1259.4" r="15.8"/><path d="M2164.5 1242.7A16.8 16.8 0 1 0 2164.5 1276.1Z"/>
<circle cx="2171.5" cy="1259.4" r="15.8"/><path d="M2173.5 1242.7A16.8 16.8 0 1 0 2173.5 1276.1Z"/>
<circle cx="2180.5" cy="1259.4" r="15.8"/><path d="M2182.5 1242.7A16.8 16.8 0 1 0 2182.5 1276.1Z"/>
</g>
<polyline points="297,1562.6 308,1562.6 319,1562.5 330,1562.5 341,1562.5 352,1562.5 363,1562.5 374,1562.5 385,1562.5 396,1562.5 407,1562.5 418,1562.5 429,1562.5 440,1562.5 451,1562.5 462,1562.5 473,1562.5 484,1562.5 495,1562.5 506,1562.5 517,1562.4 528,1562.3 539,1562.1 550,1561.8 561,1561.3 572,1560.7 583,1559.9 593.9,1558.9 604.9,1557.8 615.8,1557.7 626.8,1558.8 637.7,1560.5 648.5,1562.1 659.5,1563.1 670.5,1563.3 681.5,1562.7 692.4,1561.4 703.2,1559.2 713.7,1556.2 723.9,1552.1 733.6,1546.8 742.4,1540.3 750.3,1532.6 757.3,1524.1 763.6,1515.1 769.3,1505.7 774.6,1496.1 779.4,1486.2 783.6,1476 787.1,1465.6 789.8,1454.9 791.8,1444.1 793.6,1433.3 795.2,1422.4 797,1411.5 799.3,1400.8 802.2,1390.1 805.5,1379.7 808.7,1369.1 811.5,1358.5 814,1347.8 816.1,1337 818,1326.2 819.7,1315.3 821.1,1304.4 822.3,1293.5 823.5,1282.5 824.5,1271.6 825.4,1260.6 826.4,1249.6 827.3,1238.7 828.2,1227.7 829.2,1216.8 830.3,1205.8 831.4,1194.9 832.5,1183.9 833.6,1173 834.7,1162 835.9,1151.1 837.1,1140.2 838.3,1129.2 839.5,1118.3 840.7,1107.4 842,1096.4 843.2,1085.5 844.4,1074.6 845.7,1063.6 846.9,1052.7 848.1,1041.8 849.3,1030.8 850.4,1019.9 851.6,1009 852.7,998 853.9,987.1 855,976.1 856.1,965.2 857.1,954.2 858.2,943.3 859.3,932.3 860.3,921.4 861.3,910.4 862.4,899.5 863.4,888.5 864.4,877.6 865.4,866.6 866.4,855.7 867.4,844.7 868.3,833.8 869.3,822.8 870.3,811.9 871.3,800.9 872.2,789.9 873.2,779 874.2,768 875.1,757.1 876.1,746.1 877.1,735.2 878.1,724.2 879,713.2 880,702.3 881,691.3 882,680.4 883,669.4 884,658.5 885,647.5 886.1,636.6 887.1,625.6 888.2,614.7 889.2,603.7 890.3,592.8 891.4,581.8 892.5,570.9 893.6,559.9 894.8,549 895.9,538.1 897.1,527.1 898.4,516.2 899.6,505.3 900.9,494.3 902.3,483.4 903.7,472.5 905.1,461.6 906.6,450.7 908.1,439.8 909.7,428.9 911.3,418 913,407.2 914.8,396.3 916.6,385.5 918.5,374.6 920.5,363.8 922.5,353 924.7,342.2 927,331.5 929.5,320.8 932.3,310.1 935.2,299.5 939.1,289.2 945.2,280.1 955,276.7 964.1,282.6 970.8,291.3 975.7,301.1 980,311.3 983.9,321.5 987.6,331.9 991.1,342.3 994.5,352.8 997.6,363.3 1000.6,373.9 1003.5,384.5 1006.3,395.2 1009.1,405.8 1011.9,416.4 1014.6,427.1 1017.3,437.8 1020,448.4 1022.7,459.1 1025.4,469.8 1028.1,480.4 1030.7,491.1 1033.4,501.8 1036.1,512.4 1038.7,523.1 1041.4,533.8 1044.1,544.4 1046.9,555.1 1049.6,565.7 1052.4,576.4 1055.2,587 1058.1,597.6 1061,608.3 1063.9,618.9 1066.9,629.4 1069.9,640 1073,650.6 1076.1,661.1 1079.3,671.6 1082.6,682.2 1085.9,692.6 1089.3,703.1 1092.8,713.5 1096.3,724 1099.9,734.3 1103.6,744.7 1107.4,755 1111.3,765.3 1115.2,775.6 1119.3,785.8 1123.4,796 1127.6,806.2 1132,816.3 1136.5,826.3 1141.1,836.3 1145.9,846.2 1150.8,856.1 1155.9,865.8 1161.1,875.5 1166.6,885 1172.2,894.5 1178.1,903.8 1184.2,912.9 1190.4,922 1196.7,931 1203.2,939.9 1209.6,948.8 1216.1,957.7 1222.6,966.6 1229,975.5 1235.3,984.6 1241.5,993.6 1247.6,1002.8 1253.7,1012 1259.8,1021.1 1266.1,1030.1 1272.5,1039.1 1279.2,1047.8 1286.1,1056.3 1293.5,1064.5 1301.2,1072.4 1309.3,1079.7 1317.9,1086.6 1326.9,1092.9 1336.3,1098.7 1346,1103.9 1355.9,1108.6 1366.2,1112.6 1376.7,1115.9 1387.5,1117.7 1398.4,1116.4 1408.7,1112.5 1418.4,1107.4 1427.8,1101.8 1437,1095.8 1445.9,1089.3 1454.5,1082.4 1462.6,1075 1470.4,1067.2 1477.7,1059 1484.7,1050.5 1491.5,1041.8 1497.9,1032.9 1504.2,1023.9 1510.4,1014.8 1516.4,1005.6 1522.5,996.4 1528.5,987.2 1534.5,978 1540.6,968.8 1546.7,959.7 1552.9,950.6 1559.1,941.5 1565.5,932.6 1571.9,923.6 1578.5,914.8 1585.1,906 1591.9,897.4 1598.8,888.8 1605.8,880.4 1613,872 1620.5,863.9 1628.2,856.1 1636.3,848.6 1644.8,841.6 1653.7,835.2 1663,829.4 1672.6,824 1682.5,819.2 1692.6,815 1703.1,811.7 1713.9,809.7 1724.9,809.6 1735.7,811.9 1745.7,816.3 1755.2,821.9 1764.3,828 1773.3,834.4 1782.2,840.9 1791,847.5 1799.8,854.1 1808.6,860.6 1817.6,867 1826.6,873.3 1835.6,879.6 1844.8,885.7 1854,891.7 1863.3,897.6 1872.6,903.4 1882,909.1 1891.5,914.7 1901,920.2 1910.7,925.5 1920.3,930.8 1930.1,935.9 1939.8,940.9 1949.7,945.8 1959.6,950.6 1969.6,955.2 1979.6,959.7 1989.7,964.1 1999.8,968.4 2010.1,972.5 2020.4,976.3 2030.8,979.9 2041.3,983.2 2051.9,986.1 2062.6,988.7 2073.4,990.8 2084.2,992.4 2095.2,993.4 2106.2,994.1 2117.2,994.4 2128.2,994.5 2139.2,994.5 2150.2,994.3 2161.2,994.2 2172.2,994.2 2183.2,994.5" fill="none" stroke="#F04040" stroke-width="7.5" stroke-linejoin="round"/>
<g class="mr">
<circle cx="297" cy="1562.6" r="15.8"/><path d="M295 1545.9A16.8 16.8 0 1 1 295 1579.3Z"/>
<circle cx="308" cy="1562.6" r="15.8"/><path d="M306 1545.9A16.8 16.8 0 1 1 306 1579.2Z"/>
<circle cx="319" cy="1562.5" r="15.8"/><path d="M317 1545.8A16.8 16.8 0 1 1 317 1579.2Z"/>
<circle cx="330" cy="1562.5" r="15.8"/><path d="M328 1545.8A16.8 16.8 0 1 1 328 1579.2Z"/>
<circle cx="341" cy="1562.5" r="15.8"/><path d="M339 1545.8A16.8 16.8 0 1 1 339 1579.2Z"/>
<circle cx="352" cy="1562.5" r="15.8"/><path d="M350 1545.8A16.8 16.8 0 1 1 350 1579.2Z"/>
<circle cx="363" cy="1562.5" r="15.8"/><path d="M361 1545.8A16.8 16.8 0 1 1 361 1579.2Z"/>
<circle cx="374" cy="1562.5" r="15.8"/><path d="M372 1545.8A16.8 16.8 0 1 1 372 1579.2Z"/>
<circle cx="385" cy="1562.5" r="15.8"/><path d="M383 1545.8A16.8 16.8 0 1 1 383 1579.2Z"/>
<circle cx="396" cy="1562.5" r="15.8"/><path d="M394 1545.8A16.8 16.8 0 1 1 394 1579.2Z"/>
<circle cx="407" cy="1562.5" r="15.8"/><path d="M405 1545.8A16.8 16.8 0 1 1 405 1579.2Z"/>
<circle cx="418" cy="1562.5" r="15.8"/><path d="M416 1545.8A16.8 16.8 0 1 1 416 1579.2Z"/>
<circle cx="429" cy="1562.5" r="15.8"/><path d="M427 1545.8A16.8 16.8 0 1 1 427 1579.2Z"/>
<circle cx="440" cy="1562.5" r="15.8"/><path d="M438 1545.9A16.8 16.8 0 1 1 438 1579.2Z"/>
<circle cx="451" cy="1562.5" r="15.8"/><path d="M449 1545.9A16.8 16.8 0 1 1 449 1579.2Z"/>
<circle cx="462" cy="1562.5" r="15.8"/><path d="M460 1545.9A16.8 16.8 0 1 1 460 1579.2Z"/>
<circle cx="473" cy="1562.5" r="15.8"/><path d="M471 1545.8A16.8 16.8 0 1 1 471 1579.2Z"/>
<circle cx="484" cy="1562.5" r="15.8"/><path d="M482 1545.8A16.8 16.8 0 1 1 482 1579.2Z"/>
<circle cx="495" cy="1562.5" r="15.8"/><path d="M493 1545.8A16.8 16.8 0 1 1 493 1579.2Z"/>
<circle cx="506" cy="1562.5" r="15.8"/><path d="M504 1545.8A16.8 16.8 0 1 1 504 1579.1Z"/>
<circle cx="517" cy="1562.4" r="15.8"/><path d="M515 1545.7A16.8 16.8 0 1 1 515 1579.1Z"/>
<circle cx="528" cy="1562.3" r="15.8"/><path d="M526 1545.6A16.8 16.8 0 1 1 526 1579Z"/>
<circle cx="539" cy="1562.1" r="15.8"/><path d="M537 1545.4A16.8 16.8 0 1 1 537 1578.8Z"/>
<circle cx="550" cy="1561.8" r="15.8"/><path d="M548 1545.1A16.8 16.8 0 1 1 548 1578.5Z"/>
<circle cx="561" cy="1561.3" r="15.8"/><path d="M559 1544.6A16.8 16.8 0 1 1 559 1578Z"/>
<circle cx="572" cy="1560.7" r="15.8"/><path d="M570 1544A16.8 16.8 0 1 1 570 1577.4Z"/>
<circle cx="583" cy="1559.9" r="15.8"/><path d="M581 1543.2A16.8 16.8 0 1 1 581 1576.6Z"/>
<circle cx="593.9" cy="1558.9" r="15.8"/><path d="M591.9 1542.2A16.8 16.8 0 1 1 591.9 1575.6Z"/>
<circle cx="604.9" cy="1557.8" r="15.8"/><path d="M602.9 1541.1A16.8 16.8 0 1 1 602.9 1574.5Z"/>
<circle cx="615.8" cy="1557.7" r="15.8"/><path d="M613.8 1541A16.8 16.8 0 1 1 613.8 1574.4Z"/>
<circle cx="626.8" cy="1558.8" r="15.8"/><path d="M624.8 1542.1A16.8 16.8 0 1 1 624.8 1575.5Z"/>
<circle cx="637.7" cy="1560.5" r="15.8"/><path d="M635.7 1543.8A16.8 16.8 0 1 1 635.7 1577.2Z"/>
<circle cx="648.5" cy="1562.1" r="15.8"/><path d="M646.5 1545.4A16.8 16.8 0 1 1 646.5 1578.8Z"/>
<circle cx="659.5" cy="1563.1" r="15.8"/><path d="M657.5 1546.4A16.8 16.8 0 1 1 657.5 1579.8Z"/>
<circle cx="670.5" cy="1563.3" r="15.8"/><path d="M668.5 1546.6A16.8 16.8 0 1 1 668.5 1580Z"/>
<circle cx="681.5" cy="1562.7" r="15.8"/><path d="M679.5 1546.1A16.8 16.8 0 1 1 679.5 1579.4Z"/>
<circle cx="692.4" cy="1561.4" r="15.8"/><path d="M690.4 1544.7A16.8 16.8 0 1 1 690.4 1578.1Z"/>
<circle cx="703.2" cy="1559.2" r="15.8"/><path d="M701.2 1542.5A16.8 16.8 0 1 1 701.2 1575.9Z"/>
<circle cx="713.7" cy="1556.2" r="15.8"/><path d="M711.7 1539.5A16.8 16.8 0 1 1 711.7 1572.8Z"/>
<circle cx="723.9" cy="1552.1" r="15.8"/><path d="M721.9 1535.4A16.8 16.8 0 1 1 721.9 1568.8Z"/>
<circle cx="733.6" cy="1546.8" r="15.8"/><path d="M731.6 1530.1A16.8 16.8 0 1 1 731.6 1563.5Z"/>
<circle cx="742.4" cy="1540.3" r="15.8"/><path d="M740.4 1523.6A16.8 16.8 0 1 1 740.4 1557Z"/>
<circle cx="750.3" cy="1532.6" r="15.8"/><path d="M748.3 1515.9A16.8 16.8 0 1 1 748.3 1549.3Z"/>
<circle cx="757.3" cy="1524.1" r="15.8"/><path d="M755.3 1507.5A16.8 16.8 0 1 1 755.3 1540.8Z"/>
<circle cx="763.6" cy="1515.1" r="15.8"/><path d="M761.6 1498.4A16.8 16.8 0 1 1 761.6 1531.8Z"/>
<circle cx="769.3" cy="1505.7" r="15.8"/><path d="M767.3 1489.1A16.8 16.8 0 1 1 767.3 1522.4Z"/>
<circle cx="774.6" cy="1496.1" r="15.8"/><path d="M772.6 1479.4A16.8 16.8 0 1 1 772.6 1512.8Z"/>
<circle cx="779.4" cy="1486.2" r="15.8"/><path d="M777.4 1469.5A16.8 16.8 0 1 1 777.4 1502.9Z"/>
<circle cx="783.6" cy="1476" r="15.8"/><path d="M781.6 1459.3A16.8 16.8 0 1 1 781.6 1492.7Z"/>
<circle cx="787.1" cy="1465.6" r="15.8"/><path d="M785.1 1448.9A16.8 16.8 0 1 1 785.1 1482.3Z"/>
<circle cx="789.8" cy="1454.9" r="15.8"/><path d="M787.8 1438.2A16.8 16.8 0 1 1 787.8 1471.6Z"/>
<circle cx="791.8" cy="1444.1" r="15.8"/><path d="M789.8 1427.4A16.8 16.8 0 1 1 789.8 1460.8Z"/>
<circle cx="793.6" cy="1433.3" r="15.8"/><path d="M791.6 1416.6A16.8 16.8 0 1 1 791.6 1449.9Z"/>
<circle cx="795.2" cy="1422.4" r="15.8"/><path d="M793.2 1405.7A16.8 16.8 0 1 1 793.2 1439.1Z"/>
<circle cx="797" cy="1411.5" r="15.8"/><path d="M795 1394.8A16.8 16.8 0 1 1 795 1428.2Z"/>
<circle cx="799.3" cy="1400.8" r="15.8"/><path d="M797.3 1384.1A16.8 16.8 0 1 1 797.3 1417.4Z"/>
<circle cx="802.2" cy="1390.1" r="15.8"/><path d="M800.2 1373.5A16.8 16.8 0 1 1 800.2 1406.8Z"/>
<circle cx="805.5" cy="1379.7" r="15.8"/><path d="M803.5 1363A16.8 16.8 0 1 1 803.5 1396.3Z"/>
<circle cx="808.7" cy="1369.1" r="15.8"/><path d="M806.7 1352.5A16.8 16.8 0 1 1 806.7 1385.8Z"/>
<circle cx="811.5" cy="1358.5" r="15.8"/><path d="M809.5 1341.8A16.8 16.8 0 1 1 809.5 1375.2Z"/>
<circle cx="814" cy="1347.8" r="15.8"/><path d="M812 1331.1A16.8 16.8 0 1 1 812 1364.5Z"/>
<circle cx="816.1" cy="1337" r="15.8"/><path d="M814.1 1320.3A16.8 16.8 0 1 1 814.1 1353.7Z"/>
<circle cx="818" cy="1326.2" r="15.8"/><path d="M816 1309.5A16.8 16.8 0 1 1 816 1342.8Z"/>
<circle cx="819.7" cy="1315.3" r="15.8"/><path d="M817.7 1298.6A16.8 16.8 0 1 1 817.7 1332Z"/>
<circle cx="821.1" cy="1304.4" r="15.8"/><path d="M819.1 1287.7A16.8 16.8 0 1 1 819.1 1321.1Z"/>
<circle cx="822.3" cy="1293.5" r="15.8"/><path d="M820.3 1276.8A16.8 16.8 0 1 1 820.3 1310.1Z"/>
<circle cx="823.5" cy="1282.5" r="15.8"/><path d="M821.5 1265.8A16.8 16.8 0 1 1 821.5 1299.2Z"/>
<circle cx="824.5" cy="1271.6" r="15.8"/><path d="M822.5 1254.9A16.8 16.8 0 1 1 822.5 1288.2Z"/>
<circle cx="825.4" cy="1260.6" r="15.8"/><path d="M823.4 1243.9A16.8 16.8 0 1 1 823.4 1277.3Z"/>
<circle cx="826.4" cy="1249.6" r="15.8"/><path d="M824.4 1233A16.8 16.8 0 1 1 824.4 1266.3Z"/>
<circle cx="827.3" cy="1238.7" r="15.8"/><path d="M825.3 1222A16.8 16.8 0 1 1 825.3 1255.4Z"/>
<circle cx="828.2" cy="1227.7" r="15.8"/><path d="M826.2 1211A16.8 16.8 0 1 1 826.2 1244.4Z"/>
<circle cx="829.2" cy="1216.8" r="15.8"/><path d="M827.2 1200.1A16.8 16.8 0 1 1 827.2 1233.4Z"/>
<circle cx="830.3" cy="1205.8" r="15.8"/><path d="M828.3 1189.1A16.8 16.8 0 1 1 828.3 1222.5Z"/>
<circle cx="831.4" cy="1194.9" r="15.8"/><path d="M829.4 1178.2A16.8 16.8 0 1 1 829.4 1211.5Z"/>
<circle cx="832.5" cy="1183.9" r="15.8"/><path d="M830.5 1167.2A16.8 16.8 0 1 1 830.5 1200.6Z"/>
<circle cx="833.6" cy="1173" r="15.8"/><path d="M831.6 1156.3A16.8 16.8 0 1 1 831.6 1189.7Z"/>
<circle cx="834.7" cy="1162" r="15.8"/><path d="M832.7 1145.4A16.8 16.8 0 1 1 832.7 1178.7Z"/>
<circle cx="835.9" cy="1151.1" r="15.8"/><path d="M833.9 1134.4A16.8 16.8 0 1 1 833.9 1167.8Z"/>
<circle cx="837.1" cy="1140.2" r="15.8"/><path d="M835.1 1123.5A16.8 16.8 0 1 1 835.1 1156.8Z"/>
<circle cx="838.3" cy="1129.2" r="15.8"/><path d="M836.3 1112.6A16.8 16.8 0 1 1 836.3 1145.9Z"/>
<circle cx="839.5" cy="1118.3" r="15.8"/><path d="M837.5 1101.6A16.8 16.8 0 1 1 837.5 1135Z"/>
<circle cx="840.7" cy="1107.4" r="15.8"/><path d="M838.7 1090.7A16.8 16.8 0 1 1 838.7 1124Z"/>
<circle cx="842" cy="1096.4" r="15.8"/><path d="M840 1079.8A16.8 16.8 0 1 1 840 1113.1Z"/>
<circle cx="843.2" cy="1085.5" r="15.8"/><path d="M841.2 1068.8A16.8 16.8 0 1 1 841.2 1102.2Z"/>
<circle cx="844.4" cy="1074.6" r="15.8"/><path d="M842.4 1057.9A16.8 16.8 0 1 1 842.4 1091.3Z"/>
<circle cx="845.7" cy="1063.6" r="15.8"/><path d="M843.7 1047A16.8 16.8 0 1 1 843.7 1080.3Z"/>
<circle cx="846.9" cy="1052.7" r="15.8"/><path d="M844.9 1036A16.8 16.8 0 1 1 844.9 1069.4Z"/>
<circle cx="848.1" cy="1041.8" r="15.8"/><path d="M846.1 1025.1A16.8 16.8 0 1 1 846.1 1058.5Z"/>
<circle cx="849.3" cy="1030.8" r="15.8"/><path d="M847.3 1014.2A16.8 16.8 0 1 1 847.3 1047.5Z"/>
<circle cx="850.4" cy="1019.9" r="15.8"/><path d="M848.4 1003.2A16.8 16.8 0 1 1 848.4 1036.6Z"/>
<circle cx="851.6" cy="1009" r="15.8"/><path d="M849.6 992.3A16.8 16.8 0 1 1 849.6 1025.6Z"/>
<circle cx="852.7" cy="998" r="15.8"/><path d="M850.7 981.3A16.8 16.8 0 1 1 850.7 1014.7Z"/>
<circle cx="853.9" cy="987.1" r="15.8"/><path d="M851.9 970.4A16.8 16.8 0 1 1 851.9 1003.8Z"/>
<circle cx="855" cy="976.1" r="15.8"/><path d="M853 959.5A16.8 16.8 0 1 1 853 992.8Z"/>
<circle cx="856.1" cy="965.2" r="15.8"/><path d="M854.1 948.5A16.8 16.8 0 1 1 854.1 981.9Z"/>
<circle cx="857.1" cy="954.2" r="15.8"/><path d="M855.1 937.6A16.8 16.8 0 1 1 855.1 970.9Z"/>
<circle cx="858.2" cy="943.3" r="15.8"/><path d="M856.2 926.6A16.8 16.8 0 1 1 856.2 960Z"/>
<circle cx="859.3" cy="932.3" r="15.8"/><path d="M857.3 915.7A16.8 16.8 0 1 1 857.3 949Z"/>
<circle cx="860.3" cy="921.4" r="15.8"/><path d="M858.3 904.7A16.8 16.8 0 1 1 858.3 938.1Z"/>
<circle cx="861.3" cy="910.4" r="15.8"/><path d="M859.3 893.8A16.8 16.8 0 1 1 859.3 927.1Z"/>
<circle cx="862.4" cy="899.5" r="15.8"/><path d="M860.4 882.8A16.8 16.8 0 1 1 860.4 916.2Z"/>
<circle cx="863.4" cy="888.5" r="15.8"/><path d="M861.4 871.9A16.8 16.8 0 1 1 861.4 905.2Z"/>
<circle cx="864.4" cy="877.6" r="15.8"/><path d="M862.4 860.9A16.8 16.8 0 1 1 862.4 894.3Z"/>
<circle cx="865.4" cy="866.6" r="15.8"/><path d="M863.4 850A16.8 16.8 0 1 1 863.4 883.3Z"/>
<circle cx="866.4" cy="855.7" r="15.8"/><path d="M864.4 839A16.8 16.8 0 1 1 864.4 872.4Z"/>
<circle cx="867.4" cy="844.7" r="15.8"/><path d="M865.4 828A16.8 16.8 0 1 1 865.4 861.4Z"/>
<circle cx="868.3" cy="833.8" r="15.8"/><path d="M866.3 817.1A16.8 16.8 0 1 1 866.3 850.4Z"/>
<circle cx="869.3" cy="822.8" r="15.8"/><path d="M867.3 806.1A16.8 16.8 0 1 1 867.3 839.5Z"/>
<circle cx="870.3" cy="811.9" r="15.8"/><path d="M868.3 795.2A16.8 16.8 0 1 1 868.3 828.5Z"/>
<circle cx="871.3" cy="800.9" r="15.8"/><path d="M869.3 784.2A16.8 16.8 0 1 1 869.3 817.6Z"/>
<circle cx="872.2" cy="789.9" r="15.8"/><path d="M870.2 773.3A16.8 16.8 0 1 1 870.2 806.6Z"/>
<circle cx="873.2" cy="779" r="15.8"/><path d="M871.2 762.3A16.8 16.8 0 1 1 871.2 795.7Z"/>
<circle cx="874.2" cy="768" r="15.8"/><path d="M872.2 751.3A16.8 16.8 0 1 1 872.2 784.7Z"/>
<circle cx="875.1" cy="757.1" r="15.8"/><path d="M873.1 740.4A16.8 16.8 0 1 1 873.1 773.7Z"/>
<circle cx="876.1" cy="746.1" r="15.8"/><path d="M874.1 729.4A16.8 16.8 0 1 1 874.1 762.8Z"/>
<circle cx="877.1" cy="735.2" r="15.8"/><path d="M875.1 718.5A16.8 16.8 0 1 1 875.1 751.8Z"/>
<circle cx="878.1" cy="724.2" r="15.8"/><path d="M876.1 707.5A16.8 16.8 0 1 1 876.1 740.9Z"/>
<circle cx="879" cy="713.2" r="15.8"/><path d="M877 696.6A16.8 16.8 0 1 1 877 729.9Z"/>
<circle cx="880" cy="702.3" r="15.8"/><path d="M878 685.6A16.8 16.8 0 1 1 878 719Z"/>
<circle cx="881" cy="691.3" r="15.8"/><path d="M879 674.6A16.8 16.8 0 1 1 879 708Z"/>
<circle cx="882" cy="680.4" r="15.8"/><path d="M880 663.7A16.8 16.8 0 1 1 880 697.1Z"/>
<circle cx="883" cy="669.4" r="15.8"/><path d="M881 652.7A16.8 16.8 0 1 1 881 686.1Z"/>
<circle cx="884" cy="658.5" r="15.8"/><path d="M882 641.8A16.8 16.8 0 1 1 882 675.1Z"/>
<circle cx="885" cy="647.5" r="15.8"/><path d="M883 630.8A16.8 16.8 0 1 1 883 664.2Z"/>
<circle cx="886.1" cy="636.6" r="15.8"/><path d="M884.1 619.9A16.8 16.8 0 1 1 884.1 653.2Z"/>
<circle cx="887.1" cy="625.6" r="15.8"/><path d="M885.1 608.9A16.8 16.8 0 1 1 885.1 642.3Z"/>
<circle cx="888.2" cy="614.7" r="15.8"/><path d="M886.2 598A16.8 16.8 0 1 1 886.2 631.3Z"/>
<circle cx="889.2" cy="603.7" r="15.8"/><path d="M887.2 587A16.8 16.8 0 1 1 887.2 620.4Z"/>
<circle cx="890.3" cy="592.8" r="15.8"/><path d="M888.3 576.1A16.8 16.8 0 1 1 888.3 609.4Z"/>
<circle cx="891.4" cy="581.8" r="15.8"/><path d="M889.4 565.1A16.8 16.8 0 1 1 889.4 598.5Z"/>
<circle cx="892.5" cy="570.9" r="15.8"/><path d="M890.5 554.2A16.8 16.8 0 1 1 890.5 587.6Z"/>
<circle cx="893.6" cy="559.9" r="15.8"/><path d="M891.6 543.3A16.8 16.8 0 1 1 891.6 576.6Z"/>
<circle cx="894.8" cy="549" r="15.8"/><path d="M892.8 532.3A16.8 16.8 0 1 1 892.8 565.7Z"/>
<circle cx="895.9" cy="538.1" r="15.8"/><path d="M893.9 521.4A16.8 16.8 0 1 1 893.9 554.7Z"/>
<circle cx="897.1" cy="527.1" r="15.8"/><path d="M895.1 510.4A16.8 16.8 0 1 1 895.1 543.8Z"/>
<circle cx="898.4" cy="516.2" r="15.8"/><path d="M896.4 499.5A16.8 16.8 0 1 1 896.4 532.9Z"/>
<circle cx="899.6" cy="505.3" r="15.8"/><path d="M897.6 488.6A16.8 16.8 0 1 1 897.6 521.9Z"/>
<circle cx="900.9" cy="494.3" r="15.8"/><path d="M898.9 477.7A16.8 16.8 0 1 1 898.9 511Z"/>
<circle cx="902.3" cy="483.4" r="15.8"/><path d="M900.3 466.7A16.8 16.8 0 1 1 900.3 500.1Z"/>
<circle cx="903.7" cy="472.5" r="15.8"/><path d="M901.7 455.8A16.8 16.8 0 1 1 901.7 489.2Z"/>
<circle cx="905.1" cy="461.6" r="15.8"/><path d="M903.1 444.9A16.8 16.8 0 1 1 903.1 478.3Z"/>
<circle cx="906.6" cy="450.7" r="15.8"/><path d="M904.6 434A16.8 16.8 0 1 1 904.6 467.4Z"/>
<circle cx="908.1" cy="439.8" r="15.8"/><path d="M906.1 423.1A16.8 16.8 0 1 1 906.1 456.5Z"/>
<circle cx="909.7" cy="428.9" r="15.8"/><path d="M907.7 412.2A16.8 16.8 0 1 1 907.7 445.6Z"/>
<circle cx="911.3" cy="418" r="15.8"/><path d="M909.3 401.4A16.8 16.8 0 1 1 909.3 434.7Z"/>
<circle cx="913" cy="407.2" r="15.8"/><path d="M911 390.5A16.8 16.8 0 1 1 911 423.9Z"/>
<circle cx="914.8" cy="396.3" r="15.8"/><path d="M912.8 379.6A16.8 16.8 0 1 1 912.8 413Z"/>
<circle cx="916.6" cy="385.5" r="15.8"/><path d="M914.6 368.8A16.8 16.8 0 1 1 914.6 402.2Z"/>
<circle cx="918.5" cy="374.6" r="15.8"/><path d="M916.5 358A16.8 16.8 0 1 1 916.5 391.3Z"/>
<circle cx="920.5" cy="363.8" r="15.8"/><path d="M918.5 347.1A16.8 16.8 0 1 1 918.5 380.5Z"/>
<circle cx="922.5" cy="353" r="15.8"/><path d="M920.5 336.3A16.8 16.8 0 1 1 920.5 369.7Z"/>
<circle cx="924.7" cy="342.2" r="15.8"/><path d="M922.7 325.5A16.8 16.8 0 1 1 922.7 358.9Z"/>
<circle cx="927" cy="331.5" r="15.8"/><path d="M925 314.8A16.8 16.8 0 1 1 925 348.2Z"/>
<circle cx="929.5" cy="320.8" r="15.8"/><path d="M927.5 304.1A16.8 16.8 0 1 1 927.5 337.4Z"/>
<circle cx="932.3" cy="310.1" r="15.8"/><path d="M930.3 293.4A16.8 16.8 0 1 1 930.3 326.8Z"/>
<circle cx="935.2" cy="299.5" r="15.8"/><path d="M933.2 282.8A16.8 16.8 0 1 1 933.2 316.2Z"/>
<circle cx="939.1" cy="289.2" r="15.8"/><path d="M937.1 272.6A16.8 16.8 0 1 1 937.1 305.9Z"/>
<circle cx="945.2" cy="280.1" r="15.8"/><path d="M943.2 263.4A16.8 16.8 0 1 1 943.2 296.8Z"/>
<circle cx="955" cy="276.7" r="15.8"/><path d="M953 260A16.8 16.8 0 1 1 953 293.3Z"/>
<circle cx="964.1" cy="282.6" r="15.8"/><path d="M962.1 265.9A16.8 16.8 0 1 1 962.1 299.2Z"/>
<circle cx="970.8" cy="291.3" r="15.8"/><path d="M968.8 274.6A16.8 16.8 0 1 1 968.8 308Z"/>
<circle cx="975.7" cy="301.1" r="15.8"/><path d="M973.7 284.4A16.8 16.8 0 1 1 973.7 317.8Z"/>
<circle cx="980" cy="311.3" r="15.8"/><path d="M978 294.6A16.8 16.8 0 1 1 978 327.9Z"/>
<circle cx="983.9" cy="321.5" r="15.8"/><path d="M981.9 304.8A16.8 16.8 0 1 1 981.9 338.2Z"/>
<circle cx="987.6" cy="331.9" r="15.8"/><path d="M985.6 315.2A16.8 16.8 0 1 1 985.6 348.6Z"/>
<circle cx="991.1" cy="342.3" r="15.8"/><path d="M989.1 325.6A16.8 16.8 0 1 1 989.1 359Z"/>
<circle cx="994.5" cy="352.8" r="15.8"/><path d="M992.5 336.1A16.8 16.8 0 1 1 992.5 369.5Z"/>
<circle cx="997.6" cy="363.3" r="15.8"/><path d="M995.6 346.6A16.8 16.8 0 1 1 995.6 380Z"/>
<circle cx="1000.6" cy="373.9" r="15.8"/><path d="M998.6 357.2A16.8 16.8 0 1 1 998.6 390.6Z"/>
<circle cx="1003.5" cy="384.5" r="15.8"/><path d="M1001.5 367.8A16.8 16.8 0 1 1 1001.5 401.2Z"/>
<circle cx="1006.3" cy="395.2" r="15.8"/><path d="M1004.3 378.5A16.8 16.8 0 1 1 1004.3 411.8Z"/>
<circle cx="1009.1" cy="405.8" r="15.8"/><path d="M1007.1 389.1A16.8 16.8 0 1 1 1007.1 422.5Z"/>
<circle cx="1011.9" cy="416.4" r="15.8"/><path d="M1009.9 399.8A16.8 16.8 0 1 1 1009.9 433.1Z"/>
<circle cx="1014.6" cy="427.1" r="15.8"/><path d="M1012.6 410.4A16.8 16.8 0 1 1 1012.6 443.8Z"/>
<circle cx="1017.3" cy="437.8" r="15.8"/><path d="M1015.3 421.1A16.8 16.8 0 1 1 1015.3 454.4Z"/>
<circle cx="1020" cy="448.4" r="15.8"/><path d="M1018 431.7A16.8 16.8 0 1 1 1018 465.1Z"/>
<circle cx="1022.7" cy="459.1" r="15.8"/><path d="M1020.7 442.4A16.8 16.8 0 1 1 1020.7 475.8Z"/>
<circle cx="1025.4" cy="469.8" r="15.8"/><path d="M1023.4 453.1A16.8 16.8 0 1 1 1023.4 486.4Z"/>
<circle cx="1028.1" cy="480.4" r="15.8"/><path d="M1026.1 463.7A16.8 16.8 0 1 1 1026.1 497.1Z"/>
<circle cx="1030.7" cy="491.1" r="15.8"/><path d="M1028.7 474.4A16.8 16.8 0 1 1 1028.7 507.8Z"/>
<circle cx="1033.4" cy="501.8" r="15.8"/><path d="M1031.4 485.1A16.8 16.8 0 1 1 1031.4 518.5Z"/>
<circle cx="1036.1" cy="512.4" r="15.8"/><path d="M1034.1 495.8A16.8 16.8 0 1 1 1034.1 529.1Z"/>
<circle cx="1038.7" cy="523.1" r="15.8"/><path d="M1036.7 506.4A16.8 16.8 0 1 1 1036.7 539.8Z"/>
<circle cx="1041.4" cy="533.8" r="15.8"/><path d="M1039.4 517.1A16.8 16.8 0 1 1 1039.4 550.5Z"/>
<circle cx="1044.1" cy="544.4" r="15.8"/><path d="M1042.1 527.8A16.8 16.8 0 1 1 1042.1 561.1Z"/>
<circle cx="1046.9" cy="555.1" r="15.8"/><path d="M1044.9 538.4A16.8 16.8 0 1 1 1044.9 571.8Z"/>
<circle cx="1049.6" cy="565.7" r="15.8"/><path d="M1047.6 549.1A16.8 16.8 0 1 1 1047.6 582.4Z"/>
<circle cx="1052.4" cy="576.4" r="15.8"/><path d="M1050.4 559.7A16.8 16.8 0 1 1 1050.4 593.1Z"/>
<circle cx="1055.2" cy="587" r="15.8"/><path d="M1053.2 570.3A16.8 16.8 0 1 1 1053.2 603.7Z"/>
<circle cx="1058.1" cy="597.6" r="15.8"/><path d="M1056.1 581A16.8 16.8 0 1 1 1056.1 614.3Z"/>
<circle cx="1061" cy="608.3" r="15.8"/><path d="M1059 591.6A16.8 16.8 0 1 1 1059 624.9Z"/>
<circle cx="1063.9" cy="618.9" r="15.8"/><path d="M1061.9 602.2A16.8 16.8 0 1 1 1061.9 635.5Z"/>
<circle cx="1066.9" cy="629.4" r="15.8"/><path d="M1064.9 612.8A16.8 16.8 0 1 1 1064.9 646.1Z"/>
<circle cx="1069.9" cy="640" r="15.8"/><path d="M1067.9 623.3A16.8 16.8 0 1 1 1067.9 656.7Z"/>
<circle cx="1073" cy="650.6" r="15.8"/><path d="M1071 633.9A16.8 16.8 0 1 1 1071 667.3Z"/>
<circle cx="1076.1" cy="661.1" r="15.8"/><path d="M1074.1 644.4A16.8 16.8 0 1 1 1074.1 677.8Z"/>
<circle cx="1079.3" cy="671.6" r="15.8"/><path d="M1077.3 655A16.8 16.8 0 1 1 1077.3 688.3Z"/>
<circle cx="1082.6" cy="682.2" r="15.8"/><path d="M1080.6 665.5A16.8 16.8 0 1 1 1080.6 698.8Z"/>
<circle cx="1085.9" cy="692.6" r="15.8"/><path d="M1083.9 676A16.8 16.8 0 1 1 1083.9 709.3Z"/>
<circle cx="1089.3" cy="703.1" r="15.8"/><path d="M1087.3 686.4A16.8 16.8 0 1 1 1087.3 719.8Z"/>
<circle cx="1092.8" cy="713.5" r="15.8"/><path d="M1090.8 696.9A16.8 16.8 0 1 1 1090.8 730.2Z"/>
<circle cx="1096.3" cy="724" r="15.8"/><path d="M1094.3 707.3A16.8 16.8 0 1 1 1094.3 740.6Z"/>
<circle cx="1099.9" cy="734.3" r="15.8"/><path d="M1097.9 717.7A16.8 16.8 0 1 1 1097.9 751Z"/>
<circle cx="1103.6" cy="744.7" r="15.8"/><path d="M1101.6 728A16.8 16.8 0 1 1 1101.6 761.4Z"/>
<circle cx="1107.4" cy="755" r="15.8"/><path d="M1105.4 738.4A16.8 16.8 0 1 1 1105.4 771.7Z"/>
<circle cx="1111.3" cy="765.3" r="15.8"/><path d="M1109.3 748.7A16.8 16.8 0 1 1 1109.3 782Z"/>
<circle cx="1115.2" cy="775.6" r="15.8"/><path d="M1113.2 758.9A16.8 16.8 0 1 1 1113.2 792.3Z"/>
<circle cx="1119.3" cy="785.8" r="15.8"/><path d="M1117.3 769.1A16.8 16.8 0 1 1 1117.3 802.5Z"/>
<circle cx="1123.4" cy="796" r="15.8"/><path d="M1121.4 779.3A16.8 16.8 0 1 1 1121.4 812.7Z"/>
<circle cx="1127.6" cy="806.2" r="15.8"/><path d="M1125.6 789.5A16.8 16.8 0 1 1 1125.6 822.9Z"/>
<circle cx="1132" cy="816.3" r="15.8"/><path d="M1130 799.6A16.8 16.8 0 1 1 1130 833Z"/>
<circle cx="1136.5" cy="826.3" r="15.8"/><path d="M1134.5 809.6A16.8 16.8 0 1 1 1134.5 843Z"/>
<circle cx="1141.1" cy="836.3" r="15.8"/><path d="M1139.1 819.6A16.8 16.8 0 1 1 1139.1 853Z"/>
<circle cx="1145.9" cy="846.2" r="15.8"/><path d="M1143.9 829.5A16.8 16.8 0 1 1 1143.9 862.9Z"/>
<circle cx="1150.8" cy="856.1" r="15.8"/><path d="M1148.8 839.4A16.8 16.8 0 1 1 1148.8 872.7Z"/>
<circle cx="1155.9" cy="865.8" r="15.8"/><path d="M1153.9 849.1A16.8 16.8 0 1 1 1153.9 882.5Z"/>
<circle cx="1161.1" cy="875.5" r="15.8"/><path d="M1159.1 858.8A16.8 16.8 0 1 1 1159.1 892.2Z"/>
<circle cx="1166.6" cy="885" r="15.8"/><path d="M1164.6 868.3A16.8 16.8 0 1 1 1164.6 901.7Z"/>
<circle cx="1172.2" cy="894.5" r="15.8"/><path d="M1170.2 877.8A16.8 16.8 0 1 1 1170.2 911.1Z"/>
<circle cx="1178.1" cy="903.8" r="15.8"/><path d="M1176.1 887.1A16.8 16.8 0 1 1 1176.1 920.4Z"/>
<circle cx="1184.2" cy="912.9" r="15.8"/><path d="M1182.2 896.3A16.8 16.8 0 1 1 1182.2 929.6Z"/>
<circle cx="1190.4" cy="922" r="15.8"/><path d="M1188.4 905.3A16.8 16.8 0 1 1 1188.4 938.7Z"/>
<circle cx="1196.7" cy="931" r="15.8"/><path d="M1194.7 914.3A16.8 16.8 0 1 1 1194.7 947.7Z"/>
<circle cx="1203.2" cy="939.9" r="15.8"/><path d="M1201.2 923.3A16.8 16.8 0 1 1 1201.2 956.6Z"/>
<circle cx="1209.6" cy="948.8" r="15.8"/><path d="M1207.6 932.1A16.8 16.8 0 1 1 1207.6 965.5Z"/>
<circle cx="1216.1" cy="957.7" r="15.8"/><path d="M1214.1 941A16.8 16.8 0 1 1 1214.1 974.4Z"/>
<circle cx="1222.6" cy="966.6" r="15.8"/><path d="M1220.6 949.9A16.8 16.8 0 1 1 1220.6 983.3Z"/>
<circle cx="1229" cy="975.5" r="15.8"/><path d="M1227 958.9A16.8 16.8 0 1 1 1227 992.2Z"/>
<circle cx="1235.3" cy="984.6" r="15.8"/><path d="M1233.3 967.9A16.8 16.8 0 1 1 1233.3 1001.2Z"/>
<circle cx="1241.5" cy="993.6" r="15.8"/><path d="M1239.5 977A16.8 16.8 0 1 1 1239.5 1010.3Z"/>
<circle cx="1247.6" cy="1002.8" r="15.8"/><path d="M1245.6 986.1A16.8 16.8 0 1 1 1245.6 1019.5Z"/>
<circle cx="1253.7" cy="1012" r="15.8"/><path d="M1251.7 995.3A16.8 16.8 0 1 1 1251.7 1028.6Z"/>
<circle cx="1259.8" cy="1021.1" r="15.8"/><path d="M1257.8 1004.4A16.8 16.8 0 1 1 1257.8 1037.8Z"/>
<circle cx="1266.1" cy="1030.1" r="15.8"/><path d="M1264.1 1013.5A16.8 16.8 0 1 1 1264.1 1046.8Z"/>
<circle cx="1272.5" cy="1039.1" r="15.8"/><path d="M1270.5 1022.4A16.8 16.8 0 1 1 1270.5 1055.8Z"/>
<circle cx="1279.2" cy="1047.8" r="15.8"/><path d="M1277.2 1031.1A16.8 16.8 0 1 1 1277.2 1064.5Z"/>
<circle cx="1286.1" cy="1056.3" r="15.8"/><path d="M1284.1 1039.6A16.8 16.8 0 1 1 1284.1 1073Z"/>
<circle cx="1293.5" cy="1064.5" r="15.8"/><path d="M1291.5 1047.9A16.8 16.8 0 1 1 1291.5 1081.2Z"/>
<circle cx="1301.2" cy="1072.4" r="15.8"/><path d="M1299.2 1055.7A16.8 16.8 0 1 1 1299.2 1089Z"/>
<circle cx="1309.3" cy="1079.7" r="15.8"/><path d="M1307.3 1063.1A16.8 16.8 0 1 1 1307.3 1096.4Z"/>
<circle cx="1317.9" cy="1086.6" r="15.8"/><path d="M1315.9 1069.9A16.8 16.8 0 1 1 1315.9 1103.3Z"/>
<circle cx="1326.9" cy="1092.9" r="15.8"/><path d="M1324.9 1076.2A16.8 16.8 0 1 1 1324.9 1109.6Z"/>
<circle cx="1336.3" cy="1098.7" r="15.8"/><path d="M1334.3 1082A16.8 16.8 0 1 1 1334.3 1115.4Z"/>
<circle cx="1346" cy="1103.9" r="15.8"/><path d="M1344 1087.2A16.8 16.8 0 1 1 1344 1120.6Z"/>
<circle cx="1355.9" cy="1108.6" r="15.8"/><path d="M1353.9 1091.9A16.8 16.8 0 1 1 1353.9 1125.2Z"/>
<circle cx="1366.2" cy="1112.6" r="15.8"/><path d="M1364.2 1095.9A16.8 16.8 0 1 1 1364.2 1129.3Z"/>
<circle cx="1376.7" cy="1115.9" r="15.8"/><path d="M1374.7 1099.2A16.8 16.8 0 1 1 1374.7 1132.6Z"/>
<circle cx="1387.5" cy="1117.7" r="15.8"/><path d="M1385.5 1101A16.8 16.8 0 1 1 1385.5 1134.4Z"/>
<circle cx="1398.4" cy="1116.4" r="15.8"/><path d="M1396.4 1099.7A16.8 16.8 0 1 1 1396.4 1133.1Z"/>
<circle cx="1408.7" cy="1112.5" r="15.8"/><path d="M1406.7 1095.9A16.8 16.8 0 1 1 1406.7 1129.2Z"/>
<circle cx="1418.4" cy="1107.4" r="15.8"/><path d="M1416.4 1090.8A16.8 16.8 0 1 1 1416.4 1124.1Z"/>
<circle cx="1427.8" cy="1101.8" r="15.8"/><path d="M1425.8 1085.1A16.8 16.8 0 1 1 1425.8 1118.5Z"/>
<circle cx="1437" cy="1095.8" r="15.8"/><path d="M1435 1079.1A16.8 16.8 0 1 1 1435 1112.4Z"/>
<circle cx="1445.9" cy="1089.3" r="15.8"/><path d="M1443.9 1072.6A16.8 16.8 0 1 1 1443.9 1106Z"/>
<circle cx="1454.5" cy="1082.4" r="15.8"/><path d="M1452.5 1065.7A16.8 16.8 0 1 1 1452.5 1099.1Z"/>
<circle cx="1462.6" cy="1075" r="15.8"/><path d="M1460.6 1058.3A16.8 16.8 0 1 1 1460.6 1091.7Z"/>
<circle cx="1470.4" cy="1067.2" r="15.8"/><path d="M1468.4 1050.5A16.8 16.8 0 1 1 1468.4 1083.9Z"/>
<circle cx="1477.7" cy="1059" r="15.8"/><path d="M1475.7 1042.3A16.8 16.8 0 1 1 1475.7 1075.7Z"/>
<circle cx="1484.7" cy="1050.5" r="15.8"/><path d="M1482.7 1033.9A16.8 16.8 0 1 1 1482.7 1067.2Z"/>
<circle cx="1491.5" cy="1041.8" r="15.8"/><path d="M1489.5 1025.2A16.8 16.8 0 1 1 1489.5 1058.5Z"/>
<circle cx="1497.9" cy="1032.9" r="15.8"/><path d="M1495.9 1016.3A16.8 16.8 0 1 1 1495.9 1049.6Z"/>
<circle cx="1504.2" cy="1023.9" r="15.8"/><path d="M1502.2 1007.2A16.8 16.8 0 1 1 1502.2 1040.6Z"/>
<circle cx="1510.4" cy="1014.8" r="15.8"/><path d="M1508.4 998.1A16.8 16.8 0 1 1 1508.4 1031.5Z"/>
<circle cx="1516.4" cy="1005.6" r="15.8"/><path d="M1514.4 988.9A16.8 16.8 0 1 1 1514.4 1022.3Z"/>
<circle cx="1522.5" cy="996.4" r="15.8"/><path d="M1520.5 979.7A16.8 16.8 0 1 1 1520.5 1013.1Z"/>
<circle cx="1528.5" cy="987.2" r="15.8"/><path d="M1526.5 970.5A16.8 16.8 0 1 1 1526.5 1003.9Z"/>
<circle cx="1534.5" cy="978" r="15.8"/><path d="M1532.5 961.3A16.8 16.8 0 1 1 1532.5 994.7Z"/>
<circle cx="1540.6" cy="968.8" r="15.8"/><path d="M1538.6 952.2A16.8 16.8 0 1 1 1538.6 985.5Z"/>
<circle cx="1546.7" cy="959.7" r="15.8"/><path d="M1544.7 943A16.8 16.8 0 1 1 1544.7 976.4Z"/>
<circle cx="1552.9" cy="950.6" r="15.8"/><path d="M1550.9 933.9A16.8 16.8 0 1 1 1550.9 967.3Z"/>
<circle cx="1559.1" cy="941.5" r="15.8"/><path d="M1557.1 924.9A16.8 16.8 0 1 1 1557.1 958.2Z"/>
<circle cx="1565.5" cy="932.6" r="15.8"/><path d="M1563.5 915.9A16.8 16.8 0 1 1 1563.5 949.2Z"/>
<circle cx="1571.9" cy="923.6" r="15.8"/><path d="M1569.9 907A16.8 16.8 0 1 1 1569.9 940.3Z"/>
<circle cx="1578.5" cy="914.8" r="15.8"/><path d="M1576.5 898.1A16.8 16.8 0 1 1 1576.5 931.5Z"/>
<circle cx="1585.1" cy="906" r="15.8"/><path d="M1583.1 889.3A16.8 16.8 0 1 1 1583.1 922.7Z"/>
<circle cx="1591.9" cy="897.4" r="15.8"/><path d="M1589.9 880.7A16.8 16.8 0 1 1 1589.9 914Z"/>
<circle cx="1598.8" cy="888.8" r="15.8"/><path d="M1596.8 872.1A16.8 16.8 0 1 1 1596.8 905.5Z"/>
<circle cx="1605.8" cy="880.4" r="15.8"/><path d="M1603.8 863.7A16.8 16.8 0 1 1 1603.8 897Z"/>
<circle cx="1613" cy="872" r="15.8"/><path d="M1611 855.4A16.8 16.8 0 1 1 1611 888.7Z"/>
<circle cx="1620.5" cy="863.9" r="15.8"/><path d="M1618.5 847.3A16.8 16.8 0 1 1 1618.5 880.6Z"/>
<circle cx="1628.2" cy="856.1" r="15.8"/><path d="M1626.2 839.4A16.8 16.8 0 1 1 1626.2 872.8Z"/>
<circle cx="1636.3" cy="848.6" r="15.8"/><path d="M1634.3 831.9A16.8 16.8 0 1 1 1634.3 865.3Z"/>
<circle cx="1644.8" cy="841.6" r="15.8"/><path d="M1642.8 825A16.8 16.8 0 1 1 1642.8 858.3Z"/>
<circle cx="1653.7" cy="835.2" r="15.8"/><path d="M1651.7 818.5A16.8 16.8 0 1 1 1651.7 851.9Z"/>
<circle cx="1663" cy="829.4" r="15.8"/><path d="M1661 812.7A16.8 16.8 0 1 1 1661 846.1Z"/>
<circle cx="1672.6" cy="824" r="15.8"/><path d="M1670.6 807.4A16.8 16.8 0 1 1 1670.6 840.7Z"/>
<circle cx="1682.5" cy="819.2" r="15.8"/><path d="M1680.5 802.5A16.8 16.8 0 1 1 1680.5 835.9Z"/>
<circle cx="1692.6" cy="815" r="15.8"/><path d="M1690.6 798.3A16.8 16.8 0 1 1 1690.6 831.7Z"/>
<circle cx="1703.1" cy="811.7" r="15.8"/><path d="M1701.1 795A16.8 16.8 0 1 1 1701.1 828.4Z"/>
<circle cx="1713.9" cy="809.7" r="15.8"/><path d="M1711.9 793A16.8 16.8 0 1 1 1711.9 826.4Z"/>
<circle cx="1724.9" cy="809.6" r="15.8"/><path d="M1722.9 792.9A16.8 16.8 0 1 1 1722.9 826.3Z"/>
<circle cx="1735.7" cy="811.9" r="15.8"/><path d="M1733.7 795.2A16.8 16.8 0 1 1 1733.7 828.6Z"/>
<circle cx="1745.7" cy="816.3" r="15.8"/><path d="M1743.7 799.6A16.8 16.8 0 1 1 1743.7 833Z"/>
<circle cx="1755.2" cy="821.9" r="15.8"/><path d="M1753.2 805.2A16.8 16.8 0 1 1 1753.2 838.6Z"/>
<circle cx="1764.3" cy="828" r="15.8"/><path d="M1762.3 811.3A16.8 16.8 0 1 1 1762.3 844.7Z"/>
<circle cx="1773.3" cy="834.4" r="15.8"/><path d="M1771.3 817.7A16.8 16.8 0 1 1 1771.3 851Z"/>
<circle cx="1782.2" cy="840.9" r="15.8"/><path d="M1780.2 824.2A16.8 16.8 0 1 1 1780.2 857.6Z"/>
<circle cx="1791" cy="847.5" r="15.8"/><path d="M1789 830.8A16.8 16.8 0 1 1 1789 864.2Z"/>
<circle cx="1799.8" cy="854.1" r="15.8"/><path d="M1797.8 837.4A16.8 16.8 0 1 1 1797.8 870.8Z"/>
<circle cx="1808.6" cy="860.6" r="15.8"/><path d="M1806.6 843.9A16.8 16.8 0 1 1 1806.6 877.3Z"/>
<circle cx="1817.6" cy="867" r="15.8"/><path d="M1815.6 850.3A16.8 16.8 0 1 1 1815.6 883.7Z"/>
<circle cx="1826.6" cy="873.3" r="15.8"/><path d="M1824.6 856.7A16.8 16.8 0 1 1 1824.6 890Z"/>
<circle cx="1835.6" cy="879.6" r="15.8"/><path d="M1833.6 862.9A16.8 16.8 0 1 1 1833.6 896.3Z"/>
<circle cx="1844.8" cy="885.7" r="15.8"/><path d="M1842.8 869A16.8 16.8 0 1 1 1842.8 902.4Z"/>
<circle cx="1854" cy="891.7" r="15.8"/><path d="M1852 875A16.8 16.8 0 1 1 1852 908.4Z"/>
<circle cx="1863.3" cy="897.6" r="15.8"/><path d="M1861.3 880.9A16.8 16.8 0 1 1 1861.3 914.3Z"/>
<circle cx="1872.6" cy="903.4" r="15.8"/><path d="M1870.6 886.7A16.8 16.8 0 1 1 1870.6 920.1Z"/>
<circle cx="1882" cy="909.1" r="15.8"/><path d="M1880 892.4A16.8 16.8 0 1 1 1880 925.8Z"/>
<circle cx="1891.5" cy="914.7" r="15.8"/><path d="M1889.5 898A16.8 16.8 0 1 1 1889.5 931.4Z"/>
<circle cx="1901" cy="920.2" r="15.8"/><path d="M1899 903.5A16.8 16.8 0 1 1 1899 936.9Z"/>
<circle cx="1910.7" cy="925.5" r="15.8"/><path d="M1908.7 908.9A16.8 16.8 0 1 1 1908.7 942.2Z"/>
<circle cx="1920.3" cy="930.8" r="15.8"/><path d="M1918.3 914.1A16.8 16.8 0 1 1 1918.3 947.5Z"/>
<circle cx="1930.1" cy="935.9" r="15.8"/><path d="M1928.1 919.2A16.8 16.8 0 1 1 1928.1 952.6Z"/>
<circle cx="1939.8" cy="940.9" r="15.8"/><path d="M1937.8 924.2A16.8 16.8 0 1 1 1937.8 957.6Z"/>
<circle cx="1949.7" cy="945.8" r="15.8"/><path d="M1947.7 929.1A16.8 16.8 0 1 1 1947.7 962.5Z"/>
<circle cx="1959.6" cy="950.6" r="15.8"/><path d="M1957.6 933.9A16.8 16.8 0 1 1 1957.6 967.2Z"/>
<circle cx="1969.6" cy="955.2" r="15.8"/><path d="M1967.6 938.5A16.8 16.8 0 1 1 1967.6 971.9Z"/>
<circle cx="1979.6" cy="959.7" r="15.8"/><path d="M1977.6 943.1A16.8 16.8 0 1 1 1977.6 976.4Z"/>
<circle cx="1989.7" cy="964.1" r="15.8"/><path d="M1987.7 947.5A16.8 16.8 0 1 1 1987.7 980.8Z"/>
<circle cx="1999.8" cy="968.4" r="15.8"/><path d="M1997.8 951.7A16.8 16.8 0 1 1 1997.8 985.1Z"/>
<circle cx="2010.1" cy="972.5" r="15.8"/><path d="M2008.1 955.8A16.8 16.8 0 1 1 2008.1 989.1Z"/>
<circle cx="2020.4" cy="976.3" r="15.8"/><path d="M2018.4 959.6A16.8 16.8 0 1 1 2018.4 993Z"/>
<circle cx="2030.8" cy="979.9" r="15.8"/><path d="M2028.8 963.2A16.8 16.8 0 1 1 2028.8 996.6Z"/>
<circle cx="2041.3" cy="983.2" r="15.8"/><path d="M2039.3 966.5A16.8 16.8 0 1 1 2039.3 999.9Z"/>
<circle cx="2051.9" cy="986.1" r="15.8"/><path d="M2049.9 969.4A16.8 16.8 0 1 1 2049.9 1002.8Z"/>
<circle cx="2062.6" cy="988.7" r="15.8"/><path d="M2060.6 972A16.8 16.8 0 1 1 2060.6 1005.3Z"/>
<circle cx="2073.4" cy="990.8" r="15.8"/><path d="M2071.4 974.1A16.8 16.8 0 1 1 2071.4 1007.4Z"/>
<circle cx="2084.2" cy="992.4" r="15.8"/><path d="M2082.2 975.7A16.8 16.8 0 1 1 2082.2 1009Z"/>
<circle cx="2095.2" cy="993.4" r="15.8"/><path d="M2093.2 976.8A16.8 16.8 0 1 1 2093.2 1010.1Z"/>
<circle cx="2106.2" cy="994.1" r="15.8"/><path d="M2104.2 977.4A16.8 16.8 0 1 1 2104.2 1010.8Z"/>
<circle cx="2117.2" cy="994.4" r="15.8"/><path d="M2115.2 977.8A16.8 16.8 0 1 1 2115.2 1011.1Z"/>
<circle cx="2128.2" cy="994.5" r="15.8"/><path d="M2126.2 977.9A16.8 16.8 0 1 1 2126.2 1011.2Z"/>
<circle cx="2139.2" cy="994.5" r="15.8"/><path d="M2137.2 977.8A16.8 16.8 0 1 1 2137.2 1011.2Z"/>
<circle cx="2150.2" cy="994.3" r="15.8"/><path d="M2148.2 977.7A16.8 16.8 0 1 1 2148.2 1011Z"/>
<circle cx="2161.2" cy="994.2" r="15.8"/><path d="M2159.2 977.6A16.8 16.8 0 1 1 2159.2 1010.9Z"/>
<circle cx="2172.2" cy="994.2" r="15.8"/><path d="M2170.2 977.6A16.8 16.8 0 1 1 2170.2 1010.9Z"/>
<circle cx="2183.2" cy="994.5" r="15.8"/><path d="M2181.2 977.8A16.8 16.8 0 1 1 2181.2 1011.1Z"/>
</g>
</g>
<line x1="295" y1="51.1" x2="295" y2="1567.6" stroke="#000" stroke-width="5.6" stroke-linecap="butt"/>
<line x1="2171.1" y1="51.1" x2="2171.1" y2="1567.6" stroke="#000" stroke-width="5.6" stroke-linecap="butt"/>
<line x1="292.2" y1="53.9" x2="2173.9" y2="53.9" stroke="#000" stroke-width="5.6" stroke-linecap="butt"/>
<line x1="295" y1="1564.8" x2="265" y2="1564.8" stroke="#000" stroke-width="5.6" stroke-linecap="butt"/>
<line x1="295" y1="1438.9" x2="281" y2="1438.9" stroke="#000" stroke-width="5.6" stroke-linecap="butt"/>
<line x1="295" y1="1313" x2="265" y2="1313" stroke="#000" stroke-width="5.6" stroke-linecap="butt"/>
<line x1="295" y1="1187.1" x2="281" y2="1187.1" stroke="#000" stroke-width="5.6" stroke-linecap="butt"/>
<line x1="295" y1="1061.2" x2="265" y2="1061.2" stroke="#000" stroke-width="5.6" stroke-linecap="butt"/>
<line x1="295" y1="935.3" x2="281" y2="935.3" stroke="#000" stroke-width="5.6" stroke-linecap="butt"/>
<line x1="295" y1="809.4" x2="265" y2="809.4" stroke="#000" stroke-width="5.6" stroke-linecap="butt"/>
<line x1="295" y1="683.4" x2="281" y2="683.4" stroke="#000" stroke-width="5.6" stroke-linecap="butt"/>
<line x1="295" y1="557.5" x2="265" y2="557.5" stroke="#000" stroke-width="5.6" stroke-linecap="butt"/>
<line x1="295" y1="431.6" x2="281" y2="431.6" stroke="#000" stroke-width="5.6" stroke-linecap="butt"/>
<line x1="295" y1="305.7" x2="265" y2="305.7" stroke="#000" stroke-width="5.6" stroke-linecap="butt"/>
<line x1="295" y1="179.8" x2="281" y2="179.8" stroke="#000" stroke-width="5.6" stroke-linecap="butt"/>
<line x1="295" y1="53.9" x2="265" y2="53.9" stroke="#000" stroke-width="5.6" stroke-linecap="butt"/>
<line x1="482.6" y1="53.9" x2="482.6" y2="67.2" stroke="#000" stroke-width="5.6" stroke-linecap="butt"/>
<line x1="670.2" y1="53.9" x2="670.2" y2="80.8" stroke="#000" stroke-width="5.6" stroke-linecap="butt"/>
<line x1="857.8" y1="53.9" x2="857.8" y2="67.2" stroke="#000" stroke-width="5.6" stroke-linecap="butt"/>
<line x1="1045.4" y1="53.9" x2="1045.4" y2="80.8" stroke="#000" stroke-width="5.6" stroke-linecap="butt"/>
<line x1="1233" y1="53.9" x2="1233" y2="67.2" stroke="#000" stroke-width="5.6" stroke-linecap="butt"/>
<line x1="1420.7" y1="53.9" x2="1420.7" y2="80.8" stroke="#000" stroke-width="5.6" stroke-linecap="butt"/>
<line x1="1608.3" y1="53.9" x2="1608.3" y2="67.2" stroke="#000" stroke-width="5.6" stroke-linecap="butt"/>
<line x1="1795.9" y1="53.9" x2="1795.9" y2="80.8" stroke="#000" stroke-width="5.6" stroke-linecap="butt"/>
<line x1="1983.5" y1="53.9" x2="1983.5" y2="67.2" stroke="#000" stroke-width="5.6" stroke-linecap="butt"/>
<line x1="2171.1" y1="1413.7" x2="2157.1" y2="1413.7" stroke="#000" stroke-width="5.6" stroke-linecap="butt"/>
<line x1="2171.1" y1="1262.6" x2="2141.5" y2="1262.6" stroke="#000" stroke-width="5.6" stroke-linecap="butt"/>
<line x1="2171.1" y1="1111.5" x2="2157.1" y2="1111.5" stroke="#000" stroke-width="5.6" stroke-linecap="butt"/>
<line x1="2171.1" y1="960.4" x2="2141.5" y2="960.4" stroke="#000" stroke-width="5.6" stroke-linecap="butt"/>
<line x1="2171.1" y1="809.4" x2="2157.1" y2="809.4" stroke="#000" stroke-width="5.6" stroke-linecap="butt"/>
<line x1="2171.1" y1="658.3" x2="2141.5" y2="658.3" stroke="#000" stroke-width="5.6" stroke-linecap="butt"/>
<line x1="2171.1" y1="507.2" x2="2157.1" y2="507.2" stroke="#000" stroke-width="5.6" stroke-linecap="butt"/>
<line x1="2171.1" y1="356.1" x2="2141.5" y2="356.1" stroke="#000" stroke-width="5.6" stroke-linecap="butt"/>
<line x1="2171.1" y1="205" x2="2157.1" y2="205" stroke="#000" stroke-width="5.6" stroke-linecap="butt"/>
<text x="126.9" y="74.9" font-size="76.5" textLength="116.7" lengthAdjust="spacing">600</text>
<text x="124.1" y="328.4" font-size="76.5" textLength="120.4" lengthAdjust="spacing">500</text>
<text x="127.8" y="580.2" font-size="76.5" textLength="116.5" lengthAdjust="spacing">400</text>
<text x="126.6" y="832" font-size="76.5" textLength="117.7" lengthAdjust="spacing">300</text>
<text x="125.9" y="1085.4" font-size="76.5" textLength="118.4" lengthAdjust="spacing">200</text>
<text x="128.4" y="1336.9" font-size="76.5" textLength="116" lengthAdjust="spacing">100</text>
<text x="205.6" y="1587.5" font-size="76.5">0</text>
<text x="274.6" y="1677.5" font-size="76.5">0</text>
<text x="1214.2" y="1677.5" font-size="76.5">5</text>
<text x="2134" y="1678.2" font-size="76.5" textLength="77.1" lengthAdjust="spacing">10</text>
<text y="1805" font-size="77"><tspan x="1152.2">z</tspan> <tspan x="1207.3">(</tspan><tspan x="1231.3">A</tspan><tspan x="1289.5">)</tspan></text>
<text transform="translate(94.6,1062) rotate(-90)" y="0" font-size="77"><tspan x="-2.2">D</tspan><tspan x="56.5">e</tspan><tspan x="90.4">n</tspan><tspan x="132.2">s</tspan><tspan x="164">i</tspan><tspan x="184.6">t</tspan><tspan x="205.2">y</tspan> <tspan x="264.6">(</tspan><tspan x="291.8">k</tspan><tspan x="325.9">g</tspan><tspan x="371">/</tspan><tspan x="391.1">m</tspan><tspan x="454.5" y="-31.4" font-size="53">3</tspan><tspan x="482.1" y="0">)</tspan></text>
<rect x="1524.6" y="106.6" width="569.1" height="240.5" fill="#fff" stroke="#000" stroke-width="2.8"/>
<line x1="1531" y1="160.5" x2="1696" y2="160.5" stroke="#0000FF" stroke-width="8" stroke-linecap="butt"/>
<g class="mb"><circle cx="1612.8" cy="158" r="14.5"/><path d="M1614.8 142.6A15.5 15.5 0 1 0 1614.8 173.4Z"/></g>
<line x1="1531" y1="274" x2="1696" y2="274" stroke="#F04040" stroke-width="8" stroke-linecap="butt"/>
<g class="mr"><circle cx="1612.4" cy="274" r="14.5"/><path d="M1610.4 258.6A15.5 15.5 0 1 1 1610.4 289.4Z"/></g>
<text y="185.9" font-size="77"><tspan x="1729">P</tspan><tspan x="1775.4" y="207.7" font-size="53">1</tspan><tspan y="185.9"><tspan x="1797.6">=</tspan><tspan x="1841.5">2</tspan><tspan x="1884.5">0</tspan><tspan x="1925.2">0</tspan> <tspan x="1982.4">b</tspan><tspan x="2022.2">a</tspan><tspan x="2055.1">r</tspan></tspan></text>
<text y="302" font-size="77"><tspan x="1729">P</tspan><tspan x="1773.2" y="323.7" font-size="53">i</tspan><tspan y="302"><tspan x="1784.6">=</tspan><tspan x="1832.9">4</tspan><tspan x="1874.5">0</tspan><tspan x="1912.5">0</tspan> <tspan x="1971.5">b</tspan><tspan x="2011.4">a</tspan><tspan x="2045.1">r</tspan></tspan></text>
</svg></body></html>
